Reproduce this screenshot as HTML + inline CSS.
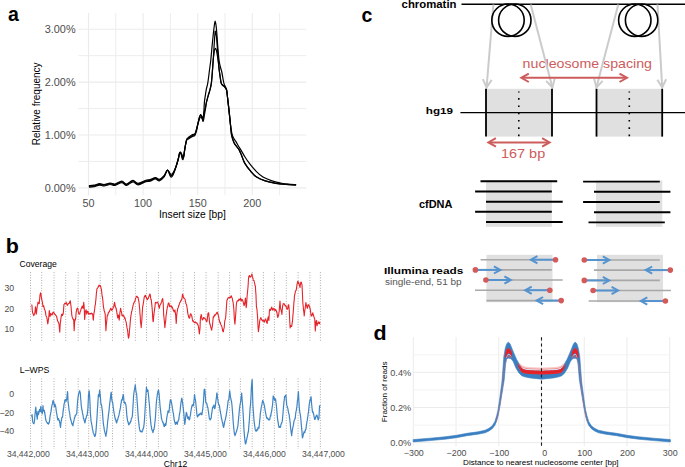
<!DOCTYPE html>
<html><head><meta charset="utf-8"><style>
html,body{margin:0;padding:0;background:#fff;}
svg{display:block;}
text{font-family:"Liberation Sans",sans-serif;}
</style></head><body>
<svg width="685" height="467" viewBox="0 0 685 467">
<rect width="685" height="467" fill="#fff"/>
<g>
<line x1="88.5" y1="12.9" x2="88.5" y2="195.3" stroke="#ebebeb" stroke-width="1.1"/>
<line x1="115.8" y1="12.9" x2="115.8" y2="195.3" stroke="#ebebeb" stroke-width="0.9"/>
<line x1="143.1" y1="12.9" x2="143.1" y2="195.3" stroke="#ebebeb" stroke-width="1.1"/>
<line x1="170.4" y1="12.9" x2="170.4" y2="195.3" stroke="#ebebeb" stroke-width="0.9"/>
<line x1="197.7" y1="12.9" x2="197.7" y2="195.3" stroke="#ebebeb" stroke-width="1.1"/>
<line x1="225" y1="12.9" x2="225" y2="195.3" stroke="#ebebeb" stroke-width="0.9"/>
<line x1="252.3" y1="12.9" x2="252.3" y2="195.3" stroke="#ebebeb" stroke-width="1.1"/>
<line x1="279.6" y1="12.9" x2="279.6" y2="195.3" stroke="#ebebeb" stroke-width="0.9"/>
<line x1="78.4" y1="187.9" x2="306.2" y2="187.9" stroke="#ebebeb" stroke-width="1.1"/>
<line x1="78.4" y1="161.45" x2="306.2" y2="161.45" stroke="#ebebeb" stroke-width="0.9"/>
<line x1="78.4" y1="135" x2="306.2" y2="135" stroke="#ebebeb" stroke-width="1.1"/>
<line x1="78.4" y1="108.55" x2="306.2" y2="108.55" stroke="#ebebeb" stroke-width="0.9"/>
<line x1="78.4" y1="82.1" x2="306.2" y2="82.1" stroke="#ebebeb" stroke-width="1.1"/>
<line x1="78.4" y1="55.65" x2="306.2" y2="55.65" stroke="#ebebeb" stroke-width="0.9"/>
<line x1="78.4" y1="29.2" x2="306.2" y2="29.2" stroke="#ebebeb" stroke-width="1.1"/>
</g>
<path d="M88.9,186.3 C89.75,186.22 92.22,186.13 94,185.8 C95.78,185.47 97.93,184.4 99.6,184.3 C101.27,184.2 102.25,185.3 104,185.2 C105.75,185.1 108.27,183.8 110.1,183.7 C111.93,183.6 113.05,184.92 115,184.6 C116.95,184.28 119.88,181.8 121.8,181.8 C123.72,181.8 124.65,184.73 126.5,184.6 C128.35,184.47 130.97,181.1 132.9,181 C134.83,180.9 135.95,184.03 138.1,184 C140.25,183.97 143.82,181.42 145.8,180.8 C147.78,180.18 148.4,180.73 150,180.3 C151.6,179.87 153.85,178.25 155.4,178.2 C156.95,178.15 157.85,180.33 159.3,180 C160.75,179.67 162.73,177.85 164.1,176.2 C165.47,174.55 166.4,170.43 167.5,170.1 C168.6,169.77 169.75,173.8 170.7,174.2 C171.65,174.6 172.32,173.8 173.2,172.5 C174.08,171.2 175.13,168.73 176,166.4 C176.87,164.07 177.77,160.8 178.4,158.5 C179.03,156.2 179.33,153.27 179.8,152.6 C180.27,151.93 180.75,153.35 181.2,154.5 C181.65,155.65 182.1,159 182.5,159.5 C182.9,160 183.17,159.57 183.6,157.5 C184.03,155.43 184.58,150.05 185.1,147.1 C185.62,144.15 186.17,141.4 186.7,139.8 C187.23,138.2 187.4,138.33 188.3,137.5 C189.2,136.67 191.02,135.42 192.1,134.8 C193.18,134.18 194.08,134.68 194.8,133.8 C195.52,132.92 195.9,131.12 196.4,129.5 C196.9,127.88 197.3,126.1 197.8,124.1 C198.3,122.1 198.93,119.08 199.4,117.5 C199.87,115.92 200.2,114.77 200.6,114.6 C201,114.43 201.43,115.8 201.8,116.5 C202.17,117.2 202.47,119.47 202.8,118.8 C203.13,118.13 203.53,115.27 203.8,112.5 C204.07,109.73 204.15,105 204.4,102.2 C204.65,99.4 204.98,97.85 205.3,95.7 C205.62,93.55 205.88,91.43 206.3,89.3 C206.72,87.17 207.27,86.12 207.8,82.9 C208.33,79.68 209,73.82 209.5,70 C210,66.18 210.38,63.83 210.8,60 C211.22,56.17 211.57,51.5 212,47 C212.43,42.5 213,36.67 213.4,33 C213.8,29.33 214.12,27 214.4,25 C214.68,23 214.83,21 215.1,21 C215.37,21 215.72,23 216,25 C216.28,27 216.5,29.33 216.8,33 C217.1,36.67 217.43,42.5 217.8,47 C218.17,51.5 218.57,56.67 219,60 C219.43,63.33 219.93,65 220.4,67 C220.87,69 221.33,69.83 221.8,72 C222.27,74.17 222.78,77.9 223.2,80 C223.62,82.1 223.93,83.47 224.3,84.6 C224.67,85.73 225.02,85.9 225.4,86.8 C225.78,87.7 226.23,88.13 226.6,90 C226.97,91.87 227.23,94.9 227.6,98 C227.97,101.1 228.43,105.27 228.8,108.6 C229.17,111.93 229.47,114.77 229.8,118 C230.13,121.23 230.5,125.17 230.8,128 C231.1,130.83 231.08,132.6 231.6,135 C232.12,137.4 233.08,140.52 233.9,142.4 C234.72,144.28 235.6,145.02 236.5,146.3 C237.4,147.58 238.35,148.32 239.3,150.1 C240.25,151.88 241.25,154.75 242.2,157 C243.15,159.25 243.57,161.22 245,163.6 C246.43,165.98 248.87,169.05 250.8,171.3 C252.73,173.55 254.18,175.5 256.6,177.1 C259.02,178.7 262.08,179.87 265.3,180.9 C268.52,181.93 272.45,182.72 275.9,183.3 C279.35,183.88 282.63,184.13 286,184.4 C289.37,184.67 294.42,184.82 296.1,184.9" fill="none" stroke="#000" stroke-width="1.2" stroke-linejoin="round"/>
<path d="M88.9,187.1 C89.75,187.02 92.22,186.93 94,186.6 C95.78,186.27 97.93,185.2 99.6,185.1 C101.27,185 102.25,186.1 104,186 C105.75,185.9 108.27,184.6 110.1,184.5 C111.93,184.4 113.05,185.72 115,185.4 C116.95,185.08 119.88,182.6 121.8,182.6 C123.72,182.6 124.65,185.53 126.5,185.4 C128.35,185.27 130.97,181.9 132.9,181.8 C134.83,181.7 135.95,184.83 138.1,184.8 C140.25,184.77 143.82,182.22 145.8,181.6 C147.78,180.98 148.4,181.53 150,181.1 C151.6,180.67 153.85,179.05 155.4,179 C156.95,178.95 157.85,181.13 159.3,180.8 C160.75,180.47 162.73,178.78 164.1,177 C165.47,175.22 166.4,170.13 167.5,170.1 C168.6,170.07 169.75,176.03 170.7,176.8 C171.65,177.57 172.32,176.33 173.2,174.7 C174.08,173.07 175.13,169.7 176,167 C176.87,164.3 177.77,160.9 178.4,158.5 C179.03,156.1 179.33,153.52 179.8,152.6 C180.27,151.68 180.75,152.43 181.2,153 C181.65,153.57 182.1,155.45 182.5,156 C182.9,156.55 183.17,157.78 183.6,156.3 C184.03,154.82 184.58,149.85 185.1,147.1 C185.62,144.35 186.17,141.13 186.7,139.8 C187.23,138.47 187.4,139.63 188.3,139.1 C189.2,138.57 191.02,137.18 192.1,136.6 C193.18,136.02 194.08,136.53 194.8,135.6 C195.52,134.67 195.9,132.83 196.4,131 C196.9,129.17 197.27,126.68 197.8,124.6 C198.33,122.52 199.08,119.8 199.6,118.5 C200.12,117.2 200.47,116.75 200.9,116.8 C201.33,116.85 201.82,118.05 202.2,118.8 C202.58,119.55 202.8,122.1 203.2,121.3 C203.6,120.5 204.2,116.22 204.6,114 C205,111.78 205.28,109.97 205.6,108 C205.92,106.03 206.07,104.25 206.5,102.2 C206.93,100.15 207.6,97.85 208.2,95.7 C208.8,93.55 209.57,91.43 210.1,89.3 C210.63,87.17 211,86.12 211.4,82.9 C211.8,79.68 212.2,73.82 212.5,70 C212.8,66.18 212.97,63.5 213.2,60 C213.43,56.5 213.68,52.33 213.9,49 C214.12,45.67 214.32,42.67 214.5,40 C214.68,37.33 214.87,34.47 215,33 C215.13,31.53 215.07,30.7 215.3,31.2 C215.53,31.7 216.07,33.37 216.4,36 C216.73,38.63 216.98,43 217.3,47 C217.62,51 217.98,56.17 218.3,60 C218.62,63.83 218.88,67.17 219.2,70 C219.52,72.83 219.88,74.85 220.2,77 C220.52,79.15 220.73,81.57 221.1,82.9 C221.47,84.23 221.82,84.35 222.4,85 C222.98,85.65 223.9,85.97 224.6,86.8 C225.3,87.63 226.1,88.13 226.6,90 C227.1,91.87 227.23,94.9 227.6,98 C227.97,101.1 228.43,105.27 228.8,108.6 C229.17,111.93 229.45,114.77 229.8,118 C230.15,121.23 230.43,125 230.9,128 C231.37,131 231.68,133.6 232.6,136 C233.52,138.4 235.4,140.68 236.4,142.4 C237.4,144.12 237.83,145.02 238.6,146.3 C239.37,147.58 239.93,148.32 241,150.1 C242.07,151.88 243.57,154.75 245,157 C246.43,159.25 247.73,161.22 249.6,163.6 C251.47,165.98 253.97,169.05 256.2,171.3 C258.43,173.55 260.37,175.5 263,177.1 C265.63,178.7 269.08,179.92 272,180.9 C274.92,181.88 277.83,182.45 280.5,183 C283.17,183.55 285.4,183.9 288,184.2 C290.6,184.5 294.75,184.7 296.1,184.8" fill="none" stroke="#000" stroke-width="1.2" stroke-linejoin="round"/>
<path d="M88.9,185.7 C89.75,185.62 92.22,185.53 94,185.2 C95.78,184.87 97.93,183.8 99.6,183.7 C101.27,183.6 102.25,184.7 104,184.6 C105.75,184.5 108.27,183.2 110.1,183.1 C111.93,183 113.05,184.32 115,184 C116.95,183.68 119.88,181.2 121.8,181.2 C123.72,181.2 124.65,184.13 126.5,184 C128.35,183.87 130.97,180.5 132.9,180.4 C134.83,180.3 135.95,183.43 138.1,183.4 C140.25,183.37 143.82,180.82 145.8,180.2 C147.78,179.58 148.4,180.13 150,179.7 C151.6,179.27 153.85,177.65 155.4,177.6 C156.95,177.55 157.85,179.73 159.3,179.4 C160.75,179.07 162.73,177.15 164.1,175.6 C165.47,174.05 166.4,170.12 167.5,170.1 C168.6,170.08 169.75,174.92 170.7,175.5 C171.65,176.08 172.32,175.07 173.2,173.6 C174.08,172.13 175.13,169.22 176,166.7 C176.87,164.18 177.77,160.85 178.4,158.5 C179.03,156.15 179.33,153.39 179.8,152.6 C180.27,151.81 180.75,152.89 181.2,153.75 C181.65,154.61 182.1,157.22 182.5,157.75 C182.9,158.28 183.17,158.68 183.6,156.9 C184.03,155.12 184.58,149.95 185.1,147.1 C185.62,144.25 186.17,141.27 186.7,139.8 C187.23,138.33 187.4,138.98 188.3,138.3 C189.2,137.62 191.02,136.3 192.1,135.7 C193.18,135.1 194.08,135.61 194.8,134.7 C195.52,133.79 195.9,132.02 196.4,130.25 C196.9,128.48 197.3,126.22 197.8,124.1 C198.3,121.97 198.93,119.05 199.4,117.5 C199.87,115.95 200.2,114.92 200.6,114.8 C201,114.68 201.43,116.1 201.8,116.8 C202.17,117.5 202.4,119.72 202.8,119 C203.2,118.28 203.77,114.42 204.2,112.5 C204.63,110.58 205.02,109.22 205.4,107.5 C205.78,105.78 206.03,104.17 206.5,102.2 C206.97,100.23 207.6,97.85 208.2,95.7 C208.8,93.55 209.57,91.43 210.1,89.3 C210.63,87.17 211,86.12 211.4,82.9 C211.8,79.68 212.2,73.82 212.5,70 C212.8,66.18 212.98,62.5 213.2,60 C213.42,57.5 213.58,56.63 213.8,55 C214.02,53.37 214.23,51.32 214.5,50.2 C214.77,49.08 215.1,48.37 215.4,48.3 C215.7,48.23 216,48.77 216.3,49.8 C216.6,50.83 216.87,52.47 217.2,54.5 C217.53,56.53 217.97,59.42 218.3,62 C218.63,64.58 218.88,67.5 219.2,70 C219.52,72.5 219.88,74.85 220.2,77 C220.52,79.15 220.73,81.57 221.1,82.9 C221.47,84.23 221.82,84.35 222.4,85 C222.98,85.65 223.9,85.97 224.6,86.8 C225.3,87.63 226.1,88.13 226.6,90 C227.1,91.87 227.23,94.9 227.6,98 C227.97,101.1 228.43,105.27 228.8,108.6 C229.17,111.93 229.47,114.77 229.8,118 C230.13,121.23 230.5,125.17 230.8,128 C231.1,130.83 231.08,132.6 231.6,135 C232.12,137.4 233.08,140.52 233.9,142.4 C234.72,144.28 235.6,145.02 236.5,146.3 C237.4,147.58 238.35,148.32 239.3,150.1 C240.25,151.88 241.25,154.75 242.2,157 C243.15,159.25 243.57,161.22 245,163.6 C246.43,165.98 248.87,169.05 250.8,171.3 C252.73,173.55 254.18,175.5 256.6,177.1 C259.02,178.7 262.08,179.87 265.3,180.9 C268.52,181.93 272.45,182.72 275.9,183.3 C279.35,183.88 282.63,184.13 286,184.4 C289.37,184.67 294.42,184.82 296.1,184.9" fill="none" stroke="#000" stroke-width="1.2" stroke-linejoin="round"/>
<g font-family="Liberation Sans, sans-serif">
<text x="8" y="21" font-size="19.5" fill="#000" text-anchor="start" font-weight="bold">a</text>
<text x="75.6" y="33.1" font-size="10.9" fill="#4d4d4d" text-anchor="end">3.00%</text>
<text x="75.6" y="86" font-size="10.9" fill="#4d4d4d" text-anchor="end">2.00%</text>
<text x="75.6" y="138.9" font-size="10.9" fill="#4d4d4d" text-anchor="end">1.00%</text>
<text x="75.6" y="191.8" font-size="10.9" fill="#4d4d4d" text-anchor="end">0.00%</text>
<text x="88.5" y="206.7" font-size="10.8" fill="#4d4d4d" text-anchor="middle">50</text>
<text x="143.1" y="206.7" font-size="10.8" fill="#4d4d4d" text-anchor="middle">100</text>
<text x="197.7" y="206.7" font-size="10.8" fill="#4d4d4d" text-anchor="middle">150</text>
<text x="252.3" y="206.7" font-size="10.8" fill="#4d4d4d" text-anchor="middle">200</text>
<text x="158.9" y="218" font-size="10.3" fill="#000" text-anchor="start">Insert size [bp]</text>
<text transform="translate(40.4,103.8) rotate(-90)" font-size="10" text-anchor="middle" fill="#000">Relative frequency</text>
</g>
<g>
<line x1="30.5" y1="272.2" x2="30.5" y2="342" stroke="#9a9a9a" stroke-width="0.9" stroke-dasharray="0.9 1.7"/>
<line x1="30.5" y1="378.5" x2="30.5" y2="449" stroke="#9a9a9a" stroke-width="0.9" stroke-dasharray="0.9 1.7"/>
<line x1="41.7" y1="272.2" x2="41.7" y2="342" stroke="#9a9a9a" stroke-width="0.9" stroke-dasharray="0.9 1.7"/>
<line x1="41.7" y1="378.5" x2="41.7" y2="449" stroke="#9a9a9a" stroke-width="0.9" stroke-dasharray="0.9 1.7"/>
<line x1="54" y1="272.2" x2="54" y2="342" stroke="#9a9a9a" stroke-width="0.9" stroke-dasharray="0.9 1.7"/>
<line x1="54" y1="378.5" x2="54" y2="449" stroke="#9a9a9a" stroke-width="0.9" stroke-dasharray="0.9 1.7"/>
<line x1="65.7" y1="272.2" x2="65.7" y2="342" stroke="#9a9a9a" stroke-width="0.9" stroke-dasharray="0.9 1.7"/>
<line x1="65.7" y1="378.5" x2="65.7" y2="449" stroke="#9a9a9a" stroke-width="0.9" stroke-dasharray="0.9 1.7"/>
<line x1="78.2" y1="272.2" x2="78.2" y2="342" stroke="#9a9a9a" stroke-width="0.9" stroke-dasharray="0.9 1.7"/>
<line x1="78.2" y1="378.5" x2="78.2" y2="449" stroke="#9a9a9a" stroke-width="0.9" stroke-dasharray="0.9 1.7"/>
<line x1="88.7" y1="272.2" x2="88.7" y2="342" stroke="#9a9a9a" stroke-width="0.9" stroke-dasharray="0.9 1.7"/>
<line x1="88.7" y1="378.5" x2="88.7" y2="449" stroke="#9a9a9a" stroke-width="0.9" stroke-dasharray="0.9 1.7"/>
<line x1="100.2" y1="272.2" x2="100.2" y2="342" stroke="#9a9a9a" stroke-width="0.9" stroke-dasharray="0.9 1.7"/>
<line x1="100.2" y1="378.5" x2="100.2" y2="449" stroke="#9a9a9a" stroke-width="0.9" stroke-dasharray="0.9 1.7"/>
<line x1="112.5" y1="272.2" x2="112.5" y2="342" stroke="#9a9a9a" stroke-width="0.9" stroke-dasharray="0.9 1.7"/>
<line x1="112.5" y1="378.5" x2="112.5" y2="449" stroke="#9a9a9a" stroke-width="0.9" stroke-dasharray="0.9 1.7"/>
<line x1="123.4" y1="272.2" x2="123.4" y2="342" stroke="#9a9a9a" stroke-width="0.9" stroke-dasharray="0.9 1.7"/>
<line x1="123.4" y1="378.5" x2="123.4" y2="449" stroke="#9a9a9a" stroke-width="0.9" stroke-dasharray="0.9 1.7"/>
<line x1="135.4" y1="272.2" x2="135.4" y2="342" stroke="#9a9a9a" stroke-width="0.9" stroke-dasharray="0.9 1.7"/>
<line x1="135.4" y1="378.5" x2="135.4" y2="449" stroke="#9a9a9a" stroke-width="0.9" stroke-dasharray="0.9 1.7"/>
<line x1="146.5" y1="272.2" x2="146.5" y2="342" stroke="#9a9a9a" stroke-width="0.9" stroke-dasharray="0.9 1.7"/>
<line x1="146.5" y1="378.5" x2="146.5" y2="449" stroke="#9a9a9a" stroke-width="0.9" stroke-dasharray="0.9 1.7"/>
<line x1="158.4" y1="272.2" x2="158.4" y2="342" stroke="#9a9a9a" stroke-width="0.9" stroke-dasharray="0.9 1.7"/>
<line x1="158.4" y1="378.5" x2="158.4" y2="449" stroke="#9a9a9a" stroke-width="0.9" stroke-dasharray="0.9 1.7"/>
<line x1="170.8" y1="272.2" x2="170.8" y2="342" stroke="#9a9a9a" stroke-width="0.9" stroke-dasharray="0.9 1.7"/>
<line x1="170.8" y1="378.5" x2="170.8" y2="449" stroke="#9a9a9a" stroke-width="0.9" stroke-dasharray="0.9 1.7"/>
<line x1="183.2" y1="272.2" x2="183.2" y2="342" stroke="#9a9a9a" stroke-width="0.9" stroke-dasharray="0.9 1.7"/>
<line x1="183.2" y1="378.5" x2="183.2" y2="449" stroke="#9a9a9a" stroke-width="0.9" stroke-dasharray="0.9 1.7"/>
<line x1="194.5" y1="272.2" x2="194.5" y2="342" stroke="#9a9a9a" stroke-width="0.9" stroke-dasharray="0.9 1.7"/>
<line x1="194.5" y1="378.5" x2="194.5" y2="449" stroke="#9a9a9a" stroke-width="0.9" stroke-dasharray="0.9 1.7"/>
<line x1="206" y1="272.2" x2="206" y2="342" stroke="#9a9a9a" stroke-width="0.9" stroke-dasharray="0.9 1.7"/>
<line x1="206" y1="378.5" x2="206" y2="449" stroke="#9a9a9a" stroke-width="0.9" stroke-dasharray="0.9 1.7"/>
<line x1="218.2" y1="272.2" x2="218.2" y2="342" stroke="#9a9a9a" stroke-width="0.9" stroke-dasharray="0.9 1.7"/>
<line x1="218.2" y1="378.5" x2="218.2" y2="449" stroke="#9a9a9a" stroke-width="0.9" stroke-dasharray="0.9 1.7"/>
<line x1="229.6" y1="272.2" x2="229.6" y2="342" stroke="#9a9a9a" stroke-width="0.9" stroke-dasharray="0.9 1.7"/>
<line x1="229.6" y1="378.5" x2="229.6" y2="449" stroke="#9a9a9a" stroke-width="0.9" stroke-dasharray="0.9 1.7"/>
<line x1="240.4" y1="272.2" x2="240.4" y2="342" stroke="#9a9a9a" stroke-width="0.9" stroke-dasharray="0.9 1.7"/>
<line x1="240.4" y1="378.5" x2="240.4" y2="449" stroke="#9a9a9a" stroke-width="0.9" stroke-dasharray="0.9 1.7"/>
<line x1="252.2" y1="272.2" x2="252.2" y2="342" stroke="#9a9a9a" stroke-width="0.9" stroke-dasharray="0.9 1.7"/>
<line x1="252.2" y1="378.5" x2="252.2" y2="449" stroke="#9a9a9a" stroke-width="0.9" stroke-dasharray="0.9 1.7"/>
<line x1="263.4" y1="272.2" x2="263.4" y2="342" stroke="#9a9a9a" stroke-width="0.9" stroke-dasharray="0.9 1.7"/>
<line x1="263.4" y1="378.5" x2="263.4" y2="449" stroke="#9a9a9a" stroke-width="0.9" stroke-dasharray="0.9 1.7"/>
<line x1="274.4" y1="272.2" x2="274.4" y2="342" stroke="#9a9a9a" stroke-width="0.9" stroke-dasharray="0.9 1.7"/>
<line x1="274.4" y1="378.5" x2="274.4" y2="449" stroke="#9a9a9a" stroke-width="0.9" stroke-dasharray="0.9 1.7"/>
<line x1="286.3" y1="272.2" x2="286.3" y2="342" stroke="#9a9a9a" stroke-width="0.9" stroke-dasharray="0.9 1.7"/>
<line x1="286.3" y1="378.5" x2="286.3" y2="449" stroke="#9a9a9a" stroke-width="0.9" stroke-dasharray="0.9 1.7"/>
<line x1="298.1" y1="272.2" x2="298.1" y2="342" stroke="#9a9a9a" stroke-width="0.9" stroke-dasharray="0.9 1.7"/>
<line x1="298.1" y1="378.5" x2="298.1" y2="449" stroke="#9a9a9a" stroke-width="0.9" stroke-dasharray="0.9 1.7"/>
<line x1="309.9" y1="272.2" x2="309.9" y2="342" stroke="#9a9a9a" stroke-width="0.9" stroke-dasharray="0.9 1.7"/>
<line x1="309.9" y1="378.5" x2="309.9" y2="449" stroke="#9a9a9a" stroke-width="0.9" stroke-dasharray="0.9 1.7"/>
<line x1="320.4" y1="272.2" x2="320.4" y2="342" stroke="#9a9a9a" stroke-width="0.9" stroke-dasharray="0.9 1.7"/>
<line x1="320.4" y1="378.5" x2="320.4" y2="449" stroke="#9a9a9a" stroke-width="0.9" stroke-dasharray="0.9 1.7"/>
</g>
<polyline points="31.75,304.46 32,306.3 32.24,310.08 32.49,311.95 32.89,313.67 33.29,314 33.69,315.69 34.04,314.94 34.39,314.1 34.74,313.45 34.99,311.47 35.24,309.47 35.49,306.7 35.74,308.47 35.99,310.85 36.24,314.19 36.59,312.05 36.94,308.58 37.29,305.96 37.59,305.18 37.89,302.56 38.19,302.21 38.54,302.61 38.89,303.61 39.24,303.71 39.49,300.22 39.74,298.52 39.99,294.72 40.23,294.94 40.48,292.88 40.73,293.22 40.98,293.86 41.23,296.29 41.48,297.72 41.73,299.75 41.98,300 42.23,301.46 42.48,302.7 42.73,304.82 42.98,306.7 43.23,305.61 43.48,305.7 43.73,305.96 43.98,307.09 44.23,308.44 44.48,309.7 44.73,309.72 44.98,310.21 45.23,311.2 45.48,312.19 45.73,314.12 45.98,315.69 46.38,316.56 46.78,317.33 47.18,319.44 47.38,321.54 47.58,322.54 47.78,323.93 48.02,322.69 48.27,320.37 48.52,319.44 48.77,317.33 49.02,314.09 49.27,310.45 49.52,311.76 49.77,314.14 50.02,316.44 50.27,315.84 50.52,314.82 50.77,313.45 51.17,314.73 51.57,314.3 51.97,314.94 52.22,314.79 52.47,313.75 52.72,312.7 53.07,312.19 53.42,312.55 53.77,312.25 54.17,313.58 54.57,314.17 54.97,314.19 55.37,314.7 55.77,315.35 56.16,315.69 56.51,316.1 56.86,317.73 57.21,319.44 57.56,320.97 57.91,321.28 58.26,322.43 58.51,322.35 58.76,323.52 59.01,323.93 59.26,327.04 59.51,329.74 59.76,332.17 59.91,329.2 60.06,326.57 60.21,323.93 60.46,321.95 60.71,320.44 60.96,317.94 61.21,316.73 61.46,315.25 61.71,314.19 61.96,314.68 62.21,314.35 62.46,315.69 62.71,314.12 62.96,314.56 63.21,313.45 63.46,311.32 63.71,307.62 63.96,304.46 64.35,304.02 64.75,303.36 65.15,303.71 65.5,303.21 65.85,303.58 66.2,302.21 66.55,303.7 66.9,304.28 67.25,305.21 67.65,305.36 68.05,303.73 68.45,303.71 68.85,303.23 69.25,303.52 69.65,302.21 69.85,301.85 70.05,301.14 70.25,300.71 70.55,302.54 70.85,305.29 71.15,307.45 71.35,310.77 71.55,311.56 71.75,314.94 72.14,316.7 72.54,318.02 72.94,318.69 73.19,319.63 73.44,319.62 73.69,319.44 73.84,323.74 73.99,326.96 74.14,330.67 74.34,327.54 74.54,324.05 74.74,320.94 75.04,319.39 75.34,320.1 75.64,318.69 75.84,316.57 76.04,313.65 76.24,311.95 76.44,310.96 76.64,309.92 76.84,308.95 77.14,308.44 77.44,308.17 77.74,308.2 78.04,310.02 78.34,311.92 78.64,313.45 78.99,313.9 79.34,313.87 79.69,314.19 80.03,312.1 80.38,311.21 80.73,310.45 81.03,308.87 81.33,308.6 81.63,307.45 81.83,307.6 82.03,306.99 82.23,305.96 82.53,307.24 82.83,308.02 83.13,308.2 83.33,305.76 83.53,304.82 83.73,302.21 83.88,304.27 84.03,304.96 84.18,307.45 84.33,310.58 84.48,314.57 84.63,319.44 84.88,317.4 85.13,313.99 85.38,311.95 85.63,310.5 85.88,310.67 86.13,309.7 86.33,310.92 86.53,311.92 86.73,314.19 87.03,312.58 87.33,312.25 87.63,311.2 87.98,311.6 88.32,312.79 88.67,314.19 89.02,314.33 89.37,313.61 89.72,313.45 90.12,313.37 90.52,313.9 90.92,314.19 91.32,313.09 91.72,313.49 92.12,313.45 92.32,313.8 92.52,313.88 92.72,314.94 92.92,315.99 93.12,319.16 93.32,320.19 93.52,317.96 93.72,315.17 93.92,313.45 94.17,312.14 94.42,311.02 94.67,308.95 94.92,306.59 95.17,305.09 95.42,304.46 95.67,301.07 95.92,299.36 96.16,296.22 96.41,293.11 96.66,291.59 96.91,288.73 97.31,288.55 97.71,287.81 98.11,287.23 98.46,285.98 98.81,286.59 99.16,284.98 99.41,285.77 99.66,285.51 99.91,285.73 100.16,285.48 100.41,286.5 100.66,286.48 100.91,287.29 101.16,288.61 101.41,289.48 101.66,291.4 101.91,294.21 102.16,296.22 102.41,296.92 102.66,298.85 102.91,300.71 103.16,304.05 103.41,306.38 103.66,308.2 103.91,308.85 104.15,310.85 104.4,311.2 104.65,311.61 104.9,313.49 105.15,313.45 105.4,319.63 105.65,324.78 105.9,330.67 106.15,327.23 106.4,323.8 106.65,321.69 106.9,320.12 107.15,316.36 107.4,314.94 107.53,315.52 107.66,315.78 107.79,314.94 108.09,314.07 108.39,312.36 108.69,311.95 109.04,312.11 109.39,311.8 109.74,310.45 110.09,310.07 110.44,308.97 110.79,308.2 111.09,308.73 111.39,309.42 111.69,310.45 112.03,309.42 112.38,309.76 112.73,308.95 113.08,308.08 113.43,306.9 113.78,306.7 114.03,304.49 114.28,304.01 114.53,302.21 114.78,303.34 115.03,305.21 115.28,306.7 115.58,306.89 115.88,308.37 116.18,308.2 116.43,310.67 116.68,310.83 116.93,313.45 117.18,314.41 117.43,316.13 117.68,317.94 117.93,317.82 118.18,316.45 118.43,314.94 118.68,316.4 118.93,317.92 119.18,320.19 119.43,317.75 119.68,315.3 119.93,311.95 120.17,311.48 120.42,309.17 120.67,308.2 120.92,310.14 121.17,311.04 121.42,311.95 121.67,313.17 121.92,315.32 122.17,315.69 122.52,315.22 122.87,316.1 123.22,315.69 123.57,315.44 123.92,316.1 124.27,317.19 124.57,318.43 124.87,317.67 125.17,318.69 125.52,320.4 125.87,321.37 126.22,322.43 126.47,324.8 126.72,325.69 126.97,327.68 127.22,328.64 127.47,329.8 127.72,331.42 127.97,334.33 128.21,336.1 128.46,338.16 128.71,337.73 128.96,336.36 129.21,334.42 129.46,330.77 129.71,328.52 129.96,325.43 130.21,322.22 130.46,319.61 130.71,317.94 130.96,315.17 131.21,314.6 131.46,311.95 131.86,310.97 132.26,309.54 132.66,307.45 133.01,305.67 133.36,304.66 133.71,302.96 134.06,302.97 134.41,301.74 134.76,301.46 135.16,300.34 135.56,298.47 135.96,297.72 136.35,296.46 136.75,296.3 137.15,296.22 137.5,297.42 137.85,297.33 138.2,297.72 138.45,299.98 138.7,300.64 138.95,302.21 139.2,304.06 139.45,307.22 139.7,308.95 139.95,313.54 140.2,316.06 140.45,320.94 140.7,323.49 140.95,324.7 141.2,327.68 141.45,323.74 141.7,321.88 141.95,317.94 142.2,313.12 142.45,309.48 142.7,305.96 142.95,305.83 143.2,303.82 143.45,302.96 143.75,300.27 144.04,298.37 144.34,296.97 144.64,296 144.94,296.41 145.24,295.47 145.54,295.25 145.84,297.21 146.14,296.97 146.49,297.5 146.84,299.31 147.19,299.21 147.54,299.7 147.89,298.34 148.24,298.46 148.54,297.27 148.84,296.92 149.14,296.22 149.39,294.75 149.64,294.99 149.89,293.97 150.14,294.39 150.39,295.59 150.64,297.72 150.89,299.58 151.14,299.34 151.39,300.71 151.64,303.38 151.89,305.62 152.13,308.2 152.33,311.11 152.53,313.91 152.73,317.94 152.88,319.93 153.03,321.28 153.18,321.69 153.43,320.28 153.68,316.49 153.93,314.94 154.18,312.18 154.43,310.66 154.68,308.2 154.93,307.07 155.18,304.28 155.43,302.21 155.83,302.8 156.23,303 156.63,302.96 156.98,302.28 157.33,302.53 157.68,302.21 157.93,302.86 158.18,303.75 158.43,305.21 158.68,305.45 158.93,306.81 159.18,308.2 159.43,308.07 159.68,306.11 159.93,305.21 160.17,304.98 160.42,304.47 160.67,303.71 161.02,303.75 161.37,302.01 161.72,301.46 162.02,300.11 162.32,299.15 162.62,298.46 162.82,299.63 163.02,302.09 163.22,302.96 163.37,307.66 163.52,310.59 163.67,314.94 163.92,316.89 164.17,319.52 164.42,321.69 164.57,323.83 164.72,325.85 164.87,327.68 165.12,325.22 165.37,322.82 165.62,321.69 165.82,318.98 166.02,316.42 166.22,314.94 166.52,313.04 166.82,310.18 167.12,308.95 167.47,306.44 167.82,305.7 168.16,303.71 168.41,303.08 168.66,303.73 168.91,302.96 169.16,304.2 169.41,306.11 169.66,306.7 170.01,305.83 170.36,306.21 170.71,305.96 171.01,306.74 171.31,305.69 171.61,306.7 171.96,308.01 172.31,307.11 172.66,308.2 172.91,309.2 173.16,310.07 173.41,309.7 173.66,311.03 173.91,310.87 174.16,311.95 174.44,310.57 174.72,310.64 175,309.94 175.25,312.7 175.5,313.57 175.75,315.94 175.9,319.14 176.05,320.29 176.2,323.43 176.4,321.17 176.6,316.59 176.8,314.44 177.1,312.11 177.4,311.17 177.7,308.45 178.05,307.99 178.4,307.18 178.75,305.45 179.09,305.06 179.44,303.9 179.79,302.45 180.19,302.3 180.59,300.88 180.99,300.96 181.24,300.33 181.49,299.34 181.74,299.46 181.99,298.1 182.24,296.26 182.49,294.21 182.74,294.52 182.99,294.93 183.24,296.46 183.59,297.79 183.94,298.01 184.29,297.96 184.59,298.55 184.89,299.03 185.19,299.46 185.39,301.34 185.59,301.87 185.79,303.2 186.09,303.76 186.39,304.41 186.69,305.45 187.03,307.51 187.38,309.59 187.73,312.94 188.08,314.7 188.43,315.79 188.78,317.43 189.08,317.81 189.38,317.15 189.68,318.18 189.88,316.67 190.08,315.04 190.28,314.44 190.58,313.76 190.88,314 191.18,314.44 191.43,315.78 191.68,315.75 191.93,316.69 192.18,318.01 192.43,319.88 192.68,321.18 193.03,320.95 193.38,320.79 193.73,321.93 193.98,322.23 194.23,322.43 194.48,322.68 194.83,322.7 195.17,322.07 195.52,321.93 195.82,322.51 196.12,322.84 196.42,322.68 196.77,322.71 197.12,323.67 197.47,324.18 197.72,324.64 197.97,324.68 198.22,325.67 198.47,327.01 198.72,328.78 198.97,330.17 199.12,332.15 199.27,333.42 199.42,333.91 199.62,331.51 199.82,330.18 200.02,327.92 200.17,323.61 200.32,320.16 200.47,317.43 200.72,316.46 200.97,316.12 201.22,314.44 201.47,315.32 201.72,317.91 201.97,318.93 202.22,319.87 202.47,319.09 202.72,319.68 202.97,319.28 203.21,318.81 203.46,317.43 203.86,317.45 204.26,318.3 204.66,318.18 205.01,318.86 205.36,318.85 205.71,318.93 205.96,320.32 206.21,321.14 206.46,321.18 206.71,321.76 206.96,320.81 207.21,320.43 207.46,317.6 207.71,315.49 207.96,313.69 208.21,312.93 208.46,313.31 208.71,312.94 208.96,316.4 209.21,318.13 209.46,321.93 209.71,323.25 209.96,324.32 210.21,324.93 210.46,325.65 210.71,326.95 210.96,327.92 211.2,328.07 211.45,329.83 211.7,330.17 211.95,327.59 212.2,327.54 212.45,324.93 212.7,322.98 212.95,320.16 213.2,317.43 213.45,316.52 213.7,317.18 213.95,315.94 214.2,316.51 214.45,314.79 214.7,315.19 214.95,315.43 215.2,315.3 215.45,314.44 215.7,314.48 215.95,314.3 216.2,313.69 216.45,313.09 216.7,313.45 216.95,312.19 217.2,313.29 217.45,312.48 217.7,312.94 217.95,314.48 218.2,314.82 218.45,315.94 218.7,316.83 218.95,318.62 219.19,320.43 219.44,320.26 219.69,322.17 219.94,321.93 220.19,323.5 220.44,322.74 220.69,324.18 221.04,325.11 221.39,325.51 221.74,326.42 222.04,327.23 222.34,329.05 222.64,330.92 222.89,330.71 223.14,331.87 223.39,331.67 223.64,329.53 223.89,328.61 224.14,327.92 224.39,325.31 224.64,322.07 224.89,320.43 225.14,319.66 225.39,318.62 225.64,317.43 225.84,315.54 226.04,311.91 226.24,309.94 226.44,306.56 226.64,304.03 226.84,300.96 227.13,299.8 227.43,299.61 227.73,298.71 228.13,297.76 228.53,298.04 228.93,297.21 229.33,297.73 229.73,297.77 230.13,297.21 230.48,297.56 230.83,296.29 231.18,295.71 231.53,296.44 231.88,297.85 232.23,297.96 232.53,299.94 232.83,301.08 233.13,302.45 233.38,304.74 233.63,307.06 233.88,309.94 234.03,312.23 234.18,316.49 234.33,318.93 234.53,319.99 234.73,322.87 234.93,324.18 235.12,321.76 235.32,320.02 235.52,316.69 235.72,314.16 235.92,311.55 236.12,307.7 236.32,305.04 236.52,303.7 236.72,301.7 237.02,301.59 237.32,300.86 237.62,300.96 237.82,300.96 238.02,300.7 238.22,300.96 238.52,300.51 238.82,299.06 239.12,299.46 239.37,299.6 239.62,299.87 239.87,300.21 240.12,299.11 240.37,298.53 240.62,297.96 240.87,299.47 241.12,300.29 241.37,300.96 241.57,300.44 241.77,300.22 241.97,299.46 242.22,299.74 242.47,299.92 242.72,300.96 243.01,301.06 243.31,302.55 243.61,303.95 243.81,304.63 244.01,305.64 244.21,305.45 244.41,305.04 244.61,303.47 244.81,302.45 245.01,301.83 245.21,299.39 245.41,297.96 245.66,301.81 245.91,304.29 246.16,307.7 246.31,306.89 246.46,306.08 246.61,303.95 246.81,300.6 247.01,297.37 247.21,294.96 247.46,292.68 247.71,290.02 247.96,287.47 248.21,283.72 248.46,279.59 248.71,276.99 248.96,276.29 249.21,275.85 249.46,275.49 249.71,275.82 249.96,277.14 250.21,276.99 250.46,276.89 250.71,276.91 250.96,276.24 251.25,276.2 251.55,275.19 251.85,273.99 252.1,274.97 252.35,276.43 252.6,276.99 252.85,278.24 253.1,279.25 253.35,279.98 253.58,280.46 253.81,280.31 254.04,280.73 254.29,281.96 254.54,282.97 254.79,283.73 254.99,285.26 255.19,285.73 255.39,285.97 255.59,289.59 255.79,292.45 255.99,294.96 256.14,299.53 256.29,303.14 256.44,306.95 256.64,307.68 256.84,308.52 257.04,309.94 257.19,312.32 257.34,314.61 257.49,315.94 257.64,319.01 257.79,321.3 257.94,324.93 258.09,327.77 258.24,329.39 258.39,331.67 258.59,330.36 258.79,328.35 258.99,327.92 259.19,325.94 259.39,324.37 259.59,321.93 259.79,320.79 259.99,319.67 260.19,318.93 260.49,318.97 260.79,317.57 261.09,318.18 261.39,318.7 261.69,319.99 261.99,319.68 262.23,320.52 262.48,320.5 262.73,321.18 262.98,321.27 263.23,320.87 263.48,320.43 263.73,320.41 263.98,320.9 264.23,321.93 264.48,322.12 264.73,320.51 264.98,320.43 265.23,319.17 265.48,320.03 265.73,318.93 265.98,319.97 266.23,320.69 266.48,321.93 266.73,322.45 266.98,323.35 267.23,323.43 267.38,321.33 267.53,320.71 267.68,318.93 267.88,318.57 268.08,318 268.28,316.69 268.48,317.52 268.68,319.38 268.88,320.43 269.08,316.45 269.28,313.55 269.48,309.94 269.73,309.35 269.98,310.47 270.22,309.94 270.47,310.35 270.72,309.14 270.97,309.19 271.22,307.95 271.47,308.53 271.72,306.95 271.97,308.32 272.22,309.56 272.47,309.94 272.72,308.85 272.97,310.16 273.22,309.19 273.47,309.17 273.72,308.37 273.97,308.45 274.22,308.82 274.47,309.92 274.72,309.94 274.97,310.46 275.22,309.39 275.47,309.94 275.72,310.42 275.97,309.84 276.22,310.69 276.47,312.04 276.72,311.59 276.97,312.19 277.22,314.68 277.47,316.1 277.72,317.43 277.97,317.13 278.21,316.01 278.46,315.94 278.71,314.49 278.96,312.29 279.21,311.44 279.46,307.29 279.71,304.84 279.96,300.96 280.16,303.2 280.36,306.4 280.56,308.45 280.76,308.48 280.96,309.84 281.16,309.94 281.41,311.84 281.66,312.59 281.91,314.44 282.16,310.73 282.41,308.26 282.66,305.45 282.91,304.94 283.16,303.73 283.41,303.95 283.76,303.64 284.11,303.65 284.46,304.7 284.81,305.13 285.16,305.9 285.51,305.45 285.81,305.69 286.1,306.11 286.4,307.7 286.75,308.56 287.1,309.26 287.45,309.19 287.7,308.78 287.95,306.9 288.2,305.45 288.35,304.92 288.5,305.56 288.65,304.7 288.85,305.76 289.05,308.54 289.25,309.94 289.4,312.71 289.55,316.75 289.7,320.43 289.85,322.92 290,325.2 290.15,327.92 290.35,326.58 290.55,325.94 290.75,325.67 291.05,326.5 291.35,326.11 291.65,326.42 291.9,325.07 292.15,322.91 292.4,321.93 292.65,319.32 292.9,315.63 293.15,312.94 293.4,309.61 293.65,306.69 293.9,302.45 294.14,300.85 294.39,296.64 294.64,294.96 294.89,294.25 295.14,293.11 295.39,291.22 295.64,290.64 295.89,290.51 296.14,290.47 296.39,288.86 296.64,287.73 296.89,285.22 297.14,283.8 297.39,283.41 297.64,281.48 297.84,282.19 298.04,281.35 298.24,282.23 298.54,283.72 298.84,282.85 299.14,284.48 299.44,284.84 299.74,286.77 300.04,287.47 300.24,285.18 300.44,284.26 300.64,282.98 300.89,282.06 301.14,282.41 301.39,282.23 301.59,283.59 301.79,284.46 301.99,284.48 302.23,289.13 302.48,294.67 302.73,300.96 302.98,304.56 303.23,306.12 303.48,309.94 303.73,311.53 303.98,313.25 304.23,315.94 304.53,312.7 304.83,310.09 305.13,308.45 305.38,306.7 305.63,304.89 305.88,302.45 306.13,303.79 306.38,305.07 306.63,305.45 306.83,306.74 307.03,307.25 307.23,308.45 307.48,307.43 307.73,306.79 307.98,304.7 308.23,305.2 308.48,304.74 308.73,305.45 309.03,305.16 309.33,307.23 309.63,306.95 309.88,308.11 310.12,308.67 310.37,309.94 310.62,312.13 310.87,314.05 311.12,315.94 311.37,315.98 311.62,315.15 311.87,315.94 312.12,314.67 312.37,313.78 312.62,312.94 312.82,312.9 313.02,314.62 313.22,314.44 313.47,315.05 313.72,316.23 313.97,316.69 314.22,317.82 314.47,318.62 314.72,318.93 314.92,323.33 315.12,327.38 315.32,330.92 315.52,327.47 315.72,325.78 315.92,321.93 316.17,320.8 316.42,321.68 316.67,320.43 316.82,322.82 316.97,324.56 317.12,325.67 317.37,324.12 317.62,323.44 317.87,323.43 318.11,323.49 318.36,322.37 318.61,321.93 318.91,322.19 319.21,323.8 319.51,323.43 319.71,322.35 319.91,322.98 320.11,322.68" fill="none" stroke="#e5242a" stroke-width="1.1" stroke-linejoin="round"/>
<polyline points="31.3,415.45 31.55,416.11 31.8,415.85 32.04,414.7 32.19,415.56 32.34,417.37 32.49,419.94 32.74,421.61 32.99,422.41 33.24,422.94 33.49,423.53 33.74,423.06 33.99,423.69 34.19,422.65 34.39,421.41 34.59,419.94 34.79,417.61 34.99,414.27 35.19,412.45 35.39,410.57 35.59,408.74 35.79,407.21 35.94,408.9 36.09,410.7 36.24,410.96 36.39,413.35 36.54,414.04 36.69,415.45 36.89,416.59 37.09,417.48 37.29,419.19 37.49,415.77 37.69,413.26 37.89,411.7 38.09,412.63 38.29,413.34 38.49,414.7 38.69,413.21 38.89,412.99 39.09,410.96 39.29,410.51 39.49,410.08 39.69,409.46 39.89,409.68 40.08,410 40.28,411.7 40.48,409.61 40.68,407.48 40.88,406.46 41.08,407.98 41.28,410.45 41.48,410.96 41.73,412.3 41.98,412.32 42.23,413.95 42.48,411.99 42.73,409.05 42.98,405.71 43.18,407.93 43.38,410.02 43.58,410.96 43.78,411.23 43.98,411.04 44.18,410.21 44.38,410.66 44.58,412.67 44.78,412.45 44.98,414.88 45.18,414.77 45.38,416.95 45.58,418.7 45.78,419.87 45.98,420.69 46.28,421.12 46.58,421.75 46.88,422.19 47.18,422.42 47.48,423.54 47.78,422.94 48.07,423.19 48.37,424.1 48.67,423.69 48.92,422.65 49.17,422.96 49.42,421.44 49.67,420.24 49.92,417.37 50.17,415.45 50.37,414.59 50.57,414.29 50.77,412.45 51.02,411.4 51.27,409.43 51.52,407.96 51.77,406.15 52.02,405.11 52.27,404.21 52.57,403.36 52.87,401.05 53.17,400.47 53.37,401.78 53.57,401 53.77,401.97 53.97,404.29 54.17,404.58 54.37,406.46 54.57,406.63 54.77,405.37 54.97,404.21 55.22,404.97 55.47,405.75 55.72,406.46 55.97,408.76 56.21,410.63 56.46,412.45 56.71,413.57 56.96,414.87 57.21,416.95 57.46,417.97 57.71,419.81 57.96,419.94 58.21,419.94 58.46,418.6 58.71,419.19 58.96,420.33 59.21,420.65 59.46,420.69 59.66,422.76 59.86,422.57 60.06,424.44 60.21,425.93 60.36,425.55 60.51,427.43 60.66,426.24 60.81,423.98 60.96,422.94 61.21,420.9 61.46,420.69 61.71,418.45 61.96,417.16 62.21,417.49 62.46,416.95 62.71,415.66 62.96,412.44 63.21,410.96 63.46,408.38 63.71,407.72 63.96,404.96 64.2,403.56 64.45,402.9 64.7,401.22 64.95,399.78 65.2,399.94 65.45,399.72 65.7,399.56 65.95,401.06 66.2,401.22 66.45,399.13 66.7,399.63 66.95,397.47 67.15,394.53 67.35,393.94 67.55,391.48 67.7,393.52 67.85,396.98 68,400.47 68.15,402.59 68.3,402.78 68.45,404.96 68.7,406.33 68.95,409.34 69.2,410.96 69.45,412.22 69.7,413.04 69.95,415.45 70.2,417.93 70.45,417.75 70.7,419.94 70.95,419.77 71.2,421.13 71.45,422.19 71.7,423.17 71.95,424.17 72.19,424.44 72.44,424.16 72.69,425.11 72.94,425.94 73.19,423.5 73.44,422.84 73.69,421.44 73.94,420.73 74.19,419.42 74.44,417.7 74.69,417.75 74.94,416.71 75.19,415.45 75.44,415.92 75.69,415.36 75.94,414.7 76.19,414.4 76.44,413.65 76.69,413.95 76.94,410.78 77.19,406.59 77.44,403.46 77.69,400.17 77.94,398.37 78.19,395.97 78.44,395.72 78.69,393.23 78.94,392.98 79.19,392.4 79.44,391.27 79.69,390.73 79.94,392.01 80.18,392.51 80.43,394.48 80.68,398.89 80.93,400.99 81.18,404.96 81.43,406.92 81.68,408.3 81.93,410.21 82.18,410.49 82.43,412.82 82.68,413.95 82.93,414.73 83.18,416.06 83.43,418.45 83.68,418.26 83.93,419.27 84.18,420.69 84.43,420.63 84.68,422.46 84.93,422.94 85.18,421.46 85.43,420.91 85.68,418.45 85.93,418.56 86.18,417.94 86.43,416.2 86.68,415.41 86.93,415.59 87.18,415.45 87.43,412.45 87.68,410.64 87.93,407.96 88.12,403.71 88.32,399.57 88.52,394.48 88.72,393.65 88.92,391.49 89.12,390.73 89.32,392.82 89.52,395.28 89.72,397.47 89.92,401.48 90.12,406.53 90.32,412.45 90.52,414.77 90.72,416.67 90.92,419.94 91.17,421.89 91.42,422.42 91.67,424.44 91.92,425.14 92.17,426.8 92.42,428.93 92.67,429.64 92.92,430.86 93.17,432.68 93.42,433.22 93.67,433.61 93.92,434.18 94.17,434.54 94.42,435.96 94.67,436.42 94.92,435.35 95.17,436.24 95.42,434.93 95.67,433.85 95.92,431.39 96.16,428.93 96.41,425.3 96.66,421.96 96.91,418.45 97.16,414.61 97.41,409.56 97.66,406.46 97.91,402.3 98.16,398.52 98.41,394.48 98.61,394.59 98.81,395.16 99.01,396.72 99.21,395.08 99.41,391.96 99.61,389.98 99.81,391.52 100.01,393.82 100.21,394.48 100.41,397.44 100.61,399.55 100.81,402.72 101.01,404.43 101.21,403.96 101.41,404.96 101.66,405.5 101.91,408.33 102.16,409.46 102.41,411.66 102.66,415.06 102.91,418.45 103.16,421.62 103.41,423.78 103.66,425.94 103.91,426.47 104.15,428.84 104.4,430.43 104.65,431.25 104.9,432.4 105.15,433.43 105.4,433.84 105.65,435.6 105.9,436.42 106.15,434.07 106.4,433 106.65,431.93 106.9,429.18 107.15,427.81 107.4,424.44 107.68,421.09 107.96,419.95 108.24,416.95 108.49,414.33 108.74,413.1 108.99,410.96 109.24,408.24 109.49,405.89 109.74,403.46 109.99,401.97 110.24,399.26 110.49,397.47 110.74,394.97 110.99,393.22 111.24,392.23 111.39,393.64 111.54,397.42 111.69,398.97 111.89,400 112.08,401.39 112.28,401.22 112.48,402.6 112.68,402.26 112.88,404.21 113.08,406.03 113.28,407.76 113.48,408.71 113.73,410.9 113.98,412.2 114.23,413.95 114.48,414.91 114.73,416.36 114.98,417.7 115.23,419.04 115.48,418.73 115.73,419.94 115.98,421 116.23,421.9 116.48,422.94 116.73,422.85 116.98,421.55 117.23,419.94 117.48,420.31 117.73,419.62 117.98,418.45 118.23,417.29 118.48,416.41 118.73,416.2 118.98,414.93 119.23,413.22 119.48,412.45 119.73,411.06 119.98,410.31 120.22,408.71 120.47,407.8 120.72,405.38 120.97,403.46 121.22,402.85 121.47,400.16 121.72,399.72 121.97,399.18 122.22,400.22 122.47,398.97 122.72,396.76 122.97,395.81 123.22,394.48 123.47,395.86 123.72,398.14 123.97,401.22 124.22,402.51 124.47,403.19 124.72,402.72 124.97,403.26 125.22,402.47 125.47,403.46 125.72,404.31 125.97,405.42 126.22,407.21 126.47,410.8 126.72,414.06 126.97,416.95 127.22,418.32 127.47,419.99 127.72,421.44 127.97,421.42 128.21,423.02 128.46,423.69 128.71,424.84 128.96,424.7 129.21,424.44 129.46,423.13 129.71,423.47 129.96,422.94 130.21,422.87 130.46,421.46 130.71,421.44 130.96,421.23 131.21,419.37 131.46,418.45 131.71,418.35 131.96,417.26 132.21,416.95 132.46,414.44 132.71,410.52 132.96,406.46 133.21,402.61 133.46,397.76 133.71,394.48 133.96,392.86 134.21,390.54 134.46,389.98 134.71,388.42 134.96,387.25 135.21,384.74 135.46,386.35 135.71,389.25 135.96,391.48 136.2,392.44 136.45,393.29 136.7,394.48 136.95,398.39 137.2,402.34 137.45,404.96 137.7,409.37 137.95,412.9 138.2,416.95 138.45,420.37 138.7,421.6 138.95,424.44 139.2,426.68 139.45,428.25 139.7,429.68 139.95,430.7 140.2,431.38 140.45,431.18 140.7,430.88 140.95,431.92 141.2,431.93 141.45,431.48 141.7,431.76 141.95,431.18 142.2,431.88 142.45,430.95 142.7,430.43 142.95,428.7 143.2,428.86 143.45,428.18 143.7,426.86 143.95,425.45 144.19,422.94 144.44,419.74 144.69,416.58 144.94,412.45 145.19,406.99 145.44,404.35 145.69,398.97 145.94,395.43 146.19,391.19 146.44,386.99 146.69,389.29 146.94,390.75 147.19,391.48 147.44,390.18 147.69,391.11 147.94,389.98 148.19,393.01 148.44,394.37 148.69,397.47 148.94,400.46 149.19,402.64 149.44,404.96 149.69,408.34 149.94,413.56 150.19,416.95 150.44,418.72 150.69,422.17 150.94,424.44 151.19,425.81 151.44,426.94 151.69,428.93 151.94,429.81 152.18,430.36 152.43,431.18 152.68,430.84 152.93,432.61 153.18,431.93 153.43,430.33 153.68,429.44 153.93,429.68 154.18,427.9 154.43,426.86 154.68,424.44 154.93,422.26 155.18,419.95 155.43,416.95 155.68,412.92 155.93,409.31 156.18,404.96 156.43,402.14 156.68,399.5 156.93,397.47 157.18,395.98 157.43,393.53 157.68,392.98 157.93,391.14 158.18,391.49 158.43,389.98 158.68,390.83 158.93,393.48 159.18,394.48 159.43,398.54 159.68,401.28 159.93,404.96 160.17,407.31 160.42,409.53 160.67,410.96 160.92,414.18 161.17,415.22 161.42,418.45 161.67,418.52 161.92,419.71 162.17,420.69 162.42,421.37 162.67,421.78 162.92,422.94 163.17,422.46 163.42,424.05 163.67,424.44 163.92,426.12 164.17,425.67 164.42,426.69 164.67,425.76 164.92,424.45 165.17,423.69 165.42,424.07 165.67,425.43 165.92,425.19 166.17,422.56 166.42,420.99 166.67,418.45 166.92,416.92 167.17,415.53 167.42,413.95 167.67,413.78 167.92,411.11 168.16,410.96 168.41,412.1 168.66,411.56 168.91,412.45 169.16,410.25 169.41,408.05 169.66,404.96 169.91,403.52 170.16,401.25 170.41,399.72 170.66,400.9 170.91,399.9 171.16,401.22 171.41,402.73 171.66,403.5 171.91,404.96 172.16,406.52 172.41,408.66 172.66,409.46 172.91,411.55 173.16,412.71 173.41,413.95 173.66,415.56 173.91,417.41 174.16,419.94 174.41,420.86 174.66,421.41 174.91,422.94 175.19,422.74 175.47,424.35 175.75,423.69 176,422.41 176.25,423.33 176.5,422.19 176.75,422.7 177,423.42 177.25,424.44 177.5,423.08 177.75,421.6 178,421.44 178.25,420.86 178.5,419.78 178.75,419.94 179,417.83 179.24,415.53 179.49,413.95 179.74,413.24 179.99,411.8 180.24,409.46 180.49,406.84 180.74,404.74 180.99,401.97 181.24,401.58 181.49,399.12 181.74,398.22 181.99,398.92 182.24,400.69 182.49,402.72 182.74,403.84 182.99,406.57 183.24,407.96 183.49,410.2 183.74,412.66 183.99,415.45 184.24,419.04 184.49,420.91 184.74,424.44 184.99,423.06 185.24,420.71 185.49,418.45 185.74,416.25 185.99,415.1 186.24,412.45 186.49,412.64 186.74,414.21 186.99,413.95 187.23,416.3 187.48,416.95 187.73,418.45 187.98,418.33 188.23,418.34 188.48,416.95 188.73,418.43 188.98,419.45 189.23,419.94 189.48,419.68 189.73,418.82 189.98,416.95 190.23,415.96 190.48,414.91 190.73,412.45 190.98,410.54 191.23,409.7 191.48,407.96 191.73,407.3 191.98,405.7 192.23,404.96 192.48,405 192.73,404.81 192.98,405.71 193.23,405.88 193.48,403.92 193.73,403.46 193.98,400.42 194.23,398.26 194.48,394.48 194.73,395.35 194.98,398.39 195.22,398.97 195.47,400.22 195.72,402.02 195.97,404.96 196.22,407.16 196.47,409.67 196.72,412.45 196.97,414.79 197.22,416.22 197.47,416.95 197.72,416.97 197.97,415.82 198.22,415.45 198.47,415.29 198.72,414.42 198.97,414.7 199.22,415.12 199.47,413.98 199.72,413.95 199.97,413.52 200.22,414.23 200.47,413.95 200.72,413 200.97,413.08 201.22,413.2 201.47,414.55 201.72,413.39 201.97,414.7 202.22,412.24 202.47,410.61 202.72,409.46 202.97,406.46 203.21,404.3 203.46,401.97 203.71,397.22 203.96,393.16 204.21,389.23 204.46,389.22 204.71,389.71 204.96,390.73 205.21,394.7 205.46,397.89 205.71,401.97 205.96,402.21 206.21,403.5 206.46,403.46 206.71,403.34 206.96,404.25 207.21,405.71 207.46,407.16 207.71,407.07 207.96,407.96 208.21,410.51 208.46,411.22 208.71,413.95 208.96,415.5 209.21,417.64 209.46,418.45 209.71,418.62 209.96,419.98 210.21,419.94 210.46,419.67 210.71,418.73 210.96,418.45 211.2,417.94 211.45,415.23 211.7,413.95 211.95,411.9 212.2,410.2 212.45,407.96 212.7,407.09 212.95,407.64 213.2,406.46 213.45,406.16 213.7,405.64 213.95,404.96 214.2,406.29 214.45,408.43 214.7,408.71 214.95,408.44 215.2,406.89 215.45,404.96 215.7,402.87 215.95,400.79 216.2,398.97 216.45,397.02 216.7,394.07 216.95,392.98 217.2,394.19 217.45,397.96 217.7,398.97 217.95,399.72 218.2,402.84 218.45,403.46 218.7,404.32 218.95,405.29 219.19,404.96 219.44,405.62 219.69,407.57 219.94,409.46 220.19,411.55 220.44,411.47 220.69,413.95 220.94,414.66 221.19,416.65 221.44,418.45 221.69,418.79 221.94,419.74 222.19,421.44 222.44,422.78 222.69,422.62 222.94,424.44 223.19,426.38 223.44,426.73 223.69,427.43 223.94,425.04 224.19,425.24 224.44,422.94 224.69,421.42 224.94,420.91 225.19,419.94 225.44,419.06 225.69,417.22 225.94,416.95 226.19,415.45 226.44,413.07 226.69,412.45 226.94,409.85 227.18,409.3 227.43,406.46 227.68,405.11 227.93,402.51 228.18,400.47 228.43,400.33 228.68,400.22 228.93,398.97 229.18,395.5 229.43,393.46 229.68,390.73 229.93,392.24 230.18,394.46 230.43,397.47 230.68,397.69 230.93,398.89 231.18,400.47 231.43,401.07 231.68,402.89 231.93,404.96 232.18,407.72 232.43,411.2 232.68,413.95 232.93,418.16 233.18,421.75 233.43,424.44 233.68,427.37 233.93,429.45 234.18,431.93 234.43,434.01 234.68,433.75 234.93,435.67 235.17,434.14 235.42,434.81 235.67,433.43 235.92,433.18 236.17,431.85 236.42,431.93 236.67,430.68 236.92,429.53 237.17,428.93 237.42,427.8 237.67,426.79 237.92,425.94 238.17,422.74 238.42,420.54 238.67,416.95 238.92,415.07 239.17,412.08 239.42,409.46 239.67,407.65 239.92,405.53 240.17,404.21 240.42,403 240.67,401.69 240.92,398.97 241.17,396.43 241.42,395.38 241.67,392.98 241.92,396.87 242.17,400.29 242.42,403.46 242.67,406.02 242.92,410.56 243.16,413.95 243.41,418.35 243.66,423.33 243.91,428.93 244.16,432.09 244.41,435.22 244.66,437.92 244.91,440.17 245.16,442.4 245.41,443.91 245.66,443.82 245.91,442.87 246.16,442.42 246.41,440.01 246.66,439.96 246.91,437.92 247.16,437.32 247.41,436.1 247.66,434.18 247.91,433.62 248.16,431.75 248.41,431.93 248.66,428.32 248.91,425.15 249.16,422.94 249.41,419.22 249.66,415.04 249.91,410.96 250.16,407.33 250.41,405.87 250.66,401.97 250.91,397.93 251.15,392.78 251.4,386.99 251.65,384.42 251.9,381.57 252.15,379.49 252.4,387.4 252.65,397.12 252.9,404.96 253.18,409.36 253.46,412.51 253.75,416.95 254,420.25 254.24,422.08 254.49,424.44 254.74,426.01 254.99,427.76 255.24,429.68 255.49,430.62 255.74,430.59 255.99,431.18 256.24,431.25 256.49,429.92 256.74,430.43 256.99,430.59 257.24,429.48 257.49,429.68 257.74,429.75 257.99,427.61 258.24,427.43 258.49,427.35 258.74,428.01 258.99,428.18 259.24,425.22 259.49,422.74 259.74,419.94 259.99,418.29 260.24,414.35 260.49,412.45 260.74,411.25 260.99,409.34 261.24,407.21 261.49,406.78 261.74,405.11 261.99,404.21 262.23,402.87 262.48,401.41 262.73,400.47 262.98,401.16 263.23,401.48 263.48,402.72 263.73,402.85 263.98,404.17 264.23,404.96 264.48,405.84 264.73,407.9 264.98,409.46 265.23,411.1 265.48,412.07 265.73,413.95 265.98,414.29 266.23,416.16 266.48,416.95 266.73,418.17 266.98,417.39 267.23,418.45 267.48,418.68 267.73,418.76 267.98,418.45 268.23,419.71 268.48,419.81 268.73,419.94 268.98,419.56 269.23,419.36 269.48,419.94 269.73,419.62 269.98,417.54 270.22,416.95 270.47,415.22 270.72,416.19 270.97,414.7 271.22,412.85 271.47,411.83 271.72,410.96 271.97,408.85 272.22,406.97 272.47,405.71 272.72,402.91 272.97,398.91 273.22,395.97 273.47,396.35 273.72,396.81 273.97,397.47 274.22,399.14 274.47,398.51 274.72,400.47 274.97,400.13 275.22,398.73 275.47,398.97 275.72,400.02 275.97,402.68 276.22,404.21 276.47,406.71 276.72,408.84 276.97,412.45 277.22,415.13 277.47,418.28 277.72,419.94 277.97,421.73 278.21,422.93 278.46,424.44 278.71,426.04 278.96,427.27 279.21,427.43 279.46,426.49 279.71,426.53 279.96,426.69 280.21,427.37 280.46,427.04 280.71,425.94 280.96,424.34 281.21,424.35 281.46,422.94 281.71,423.19 281.96,422.12 282.21,421.44 282.46,419.35 282.71,416.5 282.96,413.95 283.21,410.42 283.46,407.38 283.71,404.96 283.96,401.59 284.21,400.3 284.46,397.47 284.71,396.25 284.96,396.72 285.21,395.97 285.46,395.51 285.71,395.35 285.96,395.22 286.2,399.41 286.45,401.5 286.7,404.96 286.95,405.66 287.2,406.22 287.45,407.21 287.7,407.89 287.95,409.15 288.2,410.96 288.45,412.02 288.7,413.59 288.95,413.95 289.2,414.63 289.45,417.84 289.7,418.45 289.95,421.29 290.2,422.55 290.45,425.94 290.7,428.6 290.95,430.23 291.2,432.68 291.35,433.71 291.5,433.88 291.65,435.67 291.85,433.95 292.05,432.22 292.25,430.43 292.5,429.75 292.75,428.1 293,426.69 293.25,425.85 293.5,424.66 293.75,422.94 294,421.38 294.24,419.99 294.49,419.94 294.74,419.4 294.99,418.2 295.24,418.45 295.44,415.73 295.64,414.09 295.84,412.45 296.04,411.53 296.24,410.69 296.44,409.46 296.69,407.75 296.94,406.35 297.19,403.46 297.44,400.67 297.69,399.59 297.94,397.47 298.09,394.65 298.24,393.82 298.39,391.48 298.54,394.35 298.69,396.75 298.84,400.47 299.04,403.09 299.24,406.78 299.44,409.46 299.69,410.9 299.94,413.34 300.19,413.95 300.44,415.66 300.69,417.63 300.94,419.94 301.19,423.79 301.44,426.15 301.69,428.93 301.94,431.14 302.18,435.49 302.43,437.92 302.68,436.65 302.93,436.82 303.18,434.93 303.43,434.2 303.68,433.54 303.93,431.93 304.18,432.72 304.43,431.95 304.68,431.93 304.93,432.36 305.18,429.98 305.43,430.43 305.68,429.11 305.93,429.11 306.18,427.43 306.43,424.45 306.68,423.78 306.93,421.44 307.18,420.94 307.43,418.88 307.68,416.95 307.93,416.17 308.18,413.1 308.43,412.45 308.68,410.04 308.93,407.68 309.18,404.96 309.43,403.34 309.68,401.81 309.93,400.47 310.17,400.55 310.42,398.79 310.67,398.97 310.82,397.31 310.97,397.66 311.12,396.72 311.32,400.4 311.52,402.87 311.72,404.96 311.92,407.31 312.12,408.55 312.32,410.96 312.52,412.26 312.72,411.03 312.92,412.45 313.17,412.45 313.42,414.03 313.67,413.95 313.92,416.24 314.17,416.75 314.42,418.45 314.67,419.51 314.92,418.17 315.17,419.19 315.42,418.64 315.67,416.83 315.92,416.95 316.17,415.91 316.42,415.33 316.67,415.45 316.92,414.96 317.17,416.26 317.42,416.95 317.67,417.95 317.92,418.51 318.16,419.94 318.41,419.75 318.66,418.05 318.91,418.45 319.11,414.49 319.31,410.51 319.51,406.46 319.66,405.77 319.81,406.29 319.96,404.96" fill="none" stroke="#3f85c4" stroke-width="1.2" stroke-linejoin="round"/>
<g font-family="Liberation Sans, sans-serif">
<text transform="translate(5.8,252.8) scale(1.1,1)" font-size="19.5" font-weight="bold" fill="#000">b</text>
<text x="19.5" y="266.6" font-size="8.6" fill="#000" text-anchor="start">Coverage</text>
<text x="19.8" y="373.2" font-size="8.7" fill="#000" text-anchor="start">L–WPS</text>
<text x="14.2" y="291.4" font-size="8.7" fill="#4d4d4d" text-anchor="end">30</text>
<text x="14.2" y="311.7" font-size="8.7" fill="#4d4d4d" text-anchor="end">20</text>
<text x="14.2" y="331.9" font-size="8.7" fill="#4d4d4d" text-anchor="end">10</text>
<text x="14.2" y="396.9" font-size="8.7" fill="#4d4d4d" text-anchor="end">0</text>
<text x="14.2" y="415.6" font-size="8.7" fill="#4d4d4d" text-anchor="end">−20</text>
<text x="14.2" y="433.9" font-size="8.7" fill="#4d4d4d" text-anchor="end">−40</text>
<text x="28.4" y="456.8" font-size="8.6" fill="#4d4d4d" text-anchor="middle">34,442,000</text>
<text x="87.4" y="456.8" font-size="8.6" fill="#4d4d4d" text-anchor="middle">34,443,000</text>
<text x="146.4" y="456.8" font-size="8.6" fill="#4d4d4d" text-anchor="middle">34,444,000</text>
<text x="205.4" y="456.8" font-size="8.6" fill="#4d4d4d" text-anchor="middle">34,445,000</text>
<text x="264.4" y="456.8" font-size="8.6" fill="#4d4d4d" text-anchor="middle">34,446,000</text>
<text x="323.4" y="456.8" font-size="8.6" fill="#4d4d4d" text-anchor="middle">34,447,000</text>
<text x="175.5" y="466.9" font-size="8.6" fill="#000" text-anchor="middle">Chr12</text>
</g>
<g font-family="Liberation Sans, sans-serif">
<text x="361.5" y="21.5" font-size="19.5" fill="#000" text-anchor="start" font-weight="bold">c</text>
<text x="401.6" y="7.7" font-size="10.6" fill="#000" text-anchor="start" font-weight="bold" textLength="54.9" lengthAdjust="spacingAndGlyphs">chromatin</text>
<text x="425.8" y="114" font-size="9.9" fill="#000" text-anchor="start" font-weight="bold" textLength="27.2" lengthAdjust="spacingAndGlyphs">hg19</text>
<text x="419" y="208.2" font-size="10.5" fill="#000" text-anchor="start" font-weight="bold" textLength="33.4" lengthAdjust="spacingAndGlyphs">cfDNA</text>
<text x="383.9" y="274" font-size="9.8" fill="#000" text-anchor="start" font-weight="bold" textLength="79.4" lengthAdjust="spacingAndGlyphs">Illumina reads</text>
<text x="385" y="284.8" font-size="8.5" fill="#555" text-anchor="start" textLength="76.6" lengthAdjust="spacingAndGlyphs">single-end, 51 bp</text>
<text x="522.6" y="68.2" font-size="12.8" fill="#cd5c5c" text-anchor="start" textLength="129.4" lengthAdjust="spacingAndGlyphs">nucleosome spacing</text>
<text x="501" y="157.9" font-size="13" fill="#cd5c5c" text-anchor="start" textLength="44.2" lengthAdjust="spacingAndGlyphs">167 bp</text>
</g>
<line x1="461.5" y1="4.3" x2="685" y2="4.3" stroke="#000" stroke-width="1.4"/>
<line x1="493.4" y1="4.5" x2="486.6" y2="87.5" stroke="#cbcbcb" stroke-width="2.0"/>
<polyline points="482.87,79.17 486.6,87.5 491.64,79.89" fill="none" stroke="#cbcbcb" stroke-width="2.0" stroke-linejoin="miter"/>
<line x1="530.7" y1="4.5" x2="552.4" y2="87.5" stroke="#cbcbcb" stroke-width="2.0"/>
<polyline points="546.12,80.87 552.4,87.5 554.63,78.65" fill="none" stroke="#cbcbcb" stroke-width="2.0" stroke-linejoin="miter"/>
<line x1="618.3" y1="4.5" x2="596.4" y2="87.5" stroke="#cbcbcb" stroke-width="2.0"/>
<polyline points="594.19,78.64 596.4,87.5 602.7,80.89" fill="none" stroke="#cbcbcb" stroke-width="2.0" stroke-linejoin="miter"/>
<line x1="657.5" y1="4.5" x2="662.2" y2="87.5" stroke="#cbcbcb" stroke-width="2.0"/>
<polyline points="657.35,79.76 662.2,87.5 666.14,79.26" fill="none" stroke="#cbcbcb" stroke-width="2.0" stroke-linejoin="miter"/>
<circle cx="508" cy="20.2" r="16.2" fill="none" stroke="#000" stroke-width="1.6"/>
<circle cx="514.8" cy="20.2" r="16.2" fill="none" stroke="#000" stroke-width="1.6"/>
<circle cx="634.8" cy="20.2" r="16.2" fill="none" stroke="#000" stroke-width="1.6"/>
<circle cx="641.6" cy="20.2" r="16.2" fill="none" stroke="#000" stroke-width="1.6"/>
<rect x="486" y="88.8" width="66" height="47.8" fill="#e0e0e0"/>
<rect x="596.3" y="88.8" width="66.1" height="47.8" fill="#e0e0e0"/>
<line x1="460.4" y1="112.6" x2="685" y2="112.6" stroke="#000" stroke-width="1.4"/>
<line x1="486" y1="88.8" x2="486" y2="136.6" stroke="#000" stroke-width="1.8"/>
<line x1="552" y1="88.8" x2="552" y2="136.6" stroke="#000" stroke-width="1.8"/>
<line x1="596.5" y1="88.8" x2="596.5" y2="136.6" stroke="#000" stroke-width="1.8"/>
<line x1="662.2" y1="88.8" x2="662.2" y2="136.6" stroke="#000" stroke-width="1.8"/>
<line x1="518.8" y1="91.6" x2="518.8" y2="137" stroke="#000" stroke-width="1.6" stroke-dasharray="1.6 5.7" stroke-dashoffset="0.8"/>
<line x1="629.3" y1="91.6" x2="629.3" y2="137" stroke="#000" stroke-width="1.6" stroke-dasharray="1.6 5.7" stroke-dashoffset="0.8"/>
<line x1="522.3" y1="77.8" x2="626" y2="77.8" stroke="#cd5c5c" stroke-width="2.0"/>
<polyline points="528.8,73.6 521.3,77.8 528.8,82" fill="none" stroke="#cd5c5c" stroke-width="2.0"/>
<polyline points="619.5,73.6 627,77.8 619.5,82" fill="none" stroke="#cd5c5c" stroke-width="2.0"/>
<line x1="489.4" y1="142.4" x2="548.6" y2="142.4" stroke="#cd5c5c" stroke-width="2.0"/>
<polyline points="495.9,138.2 488.4,142.4 495.9,146.6" fill="none" stroke="#cd5c5c" stroke-width="2.0"/>
<polyline points="542.1,138.2 549.6,142.4 542.1,146.6" fill="none" stroke="#cd5c5c" stroke-width="2.0"/>
<rect x="486" y="180.5" width="65.8" height="46.3" fill="#e0e0e0"/>
<rect x="596" y="180.5" width="66.3" height="46.3" fill="#e0e0e0"/>
<line x1="480.5" y1="181.3" x2="557.2" y2="181.3" stroke="#000" stroke-width="1.9"/>
<line x1="475.1" y1="191.5" x2="551.8" y2="191.5" stroke="#000" stroke-width="1.9"/>
<line x1="486" y1="201.7" x2="562.7" y2="201.7" stroke="#000" stroke-width="1.9"/>
<line x1="475.1" y1="211.8" x2="551.8" y2="211.8" stroke="#000" stroke-width="1.9"/>
<line x1="486" y1="222" x2="562.7" y2="222" stroke="#000" stroke-width="1.9"/>
<line x1="583.1" y1="181.6" x2="659.8" y2="181.6" stroke="#000" stroke-width="1.9"/>
<line x1="594" y1="191.8" x2="670.4" y2="191.8" stroke="#000" stroke-width="1.9"/>
<line x1="583.1" y1="202" x2="659.8" y2="202" stroke="#000" stroke-width="1.9"/>
<line x1="594" y1="212.2" x2="670.4" y2="212.2" stroke="#000" stroke-width="1.9"/>
<line x1="588.5" y1="222.4" x2="664.8" y2="222.4" stroke="#000" stroke-width="1.9"/>
<rect x="486.4" y="254.8" width="66.1" height="47.4" fill="#e0e0e0"/>
<rect x="597" y="254.8" width="66" height="47.4" fill="#e0e0e0"/>
<line x1="480.6" y1="259.7" x2="555.5" y2="259.7" stroke="#a8a8a8" stroke-width="1.6"/>
<line x1="475.4" y1="269.9" x2="551.8" y2="269.9" stroke="#a8a8a8" stroke-width="1.6"/>
<line x1="485.9" y1="280" x2="562.7" y2="280" stroke="#a8a8a8" stroke-width="1.6"/>
<line x1="475" y1="290.2" x2="549.8" y2="290.2" stroke="#a8a8a8" stroke-width="1.6"/>
<line x1="486.4" y1="300.6" x2="561.2" y2="300.6" stroke="#a8a8a8" stroke-width="1.6"/>
<line x1="584.3" y1="260" x2="659.8" y2="260" stroke="#a8a8a8" stroke-width="1.6"/>
<line x1="594" y1="270.1" x2="670.3" y2="270.1" stroke="#a8a8a8" stroke-width="1.6"/>
<line x1="584.3" y1="280.4" x2="659.8" y2="280.4" stroke="#a8a8a8" stroke-width="1.6"/>
<line x1="593.1" y1="290.5" x2="670.9" y2="290.5" stroke="#a8a8a8" stroke-width="1.6"/>
<line x1="588.7" y1="301" x2="665.4" y2="301" stroke="#a8a8a8" stroke-width="1.6"/>
<line x1="555.5" y1="259.7" x2="531.7" y2="259.7" stroke="#5593cf" stroke-width="2"/>
<polyline points="537.4,256.1 530.9,259.7 537.4,263.3" fill="none" stroke="#5593cf" stroke-width="2"/>
<circle cx="555.5" cy="259.7" r="2.8" fill="#d45a5a"/>
<line x1="475.4" y1="269.9" x2="499.6" y2="269.9" stroke="#5593cf" stroke-width="2"/>
<polyline points="493.9,266.3 500.4,269.9 493.9,273.5" fill="none" stroke="#5593cf" stroke-width="2"/>
<circle cx="475.4" cy="269.9" r="2.8" fill="#d45a5a"/>
<line x1="485.9" y1="280" x2="510.1" y2="280" stroke="#5593cf" stroke-width="2"/>
<polyline points="504.4,276.4 510.9,280 504.4,283.6" fill="none" stroke="#5593cf" stroke-width="2"/>
<circle cx="485.9" cy="280" r="2.8" fill="#d45a5a"/>
<line x1="549.8" y1="290.2" x2="526" y2="290.2" stroke="#5593cf" stroke-width="2"/>
<polyline points="531.7,286.6 525.2,290.2 531.7,293.8" fill="none" stroke="#5593cf" stroke-width="2"/>
<circle cx="549.8" cy="290.2" r="2.8" fill="#d45a5a"/>
<line x1="561.2" y1="300.6" x2="537.4" y2="300.6" stroke="#5593cf" stroke-width="2"/>
<polyline points="543.1,297 536.6,300.6 543.1,304.2" fill="none" stroke="#5593cf" stroke-width="2"/>
<circle cx="561.2" cy="300.6" r="2.8" fill="#d45a5a"/>
<line x1="584.3" y1="260" x2="608.5" y2="260" stroke="#5593cf" stroke-width="2"/>
<polyline points="602.8,256.4 609.3,260 602.8,263.6" fill="none" stroke="#5593cf" stroke-width="2"/>
<circle cx="584.3" cy="260" r="2.8" fill="#d45a5a"/>
<line x1="670.3" y1="270.1" x2="646.5" y2="270.1" stroke="#5593cf" stroke-width="2"/>
<polyline points="652.2,266.5 645.7,270.1 652.2,273.7" fill="none" stroke="#5593cf" stroke-width="2"/>
<circle cx="670.3" cy="270.1" r="2.8" fill="#d45a5a"/>
<line x1="584.3" y1="280.4" x2="608.5" y2="280.4" stroke="#5593cf" stroke-width="2"/>
<polyline points="602.8,276.8 609.3,280.4 602.8,284" fill="none" stroke="#5593cf" stroke-width="2"/>
<circle cx="584.3" cy="280.4" r="2.8" fill="#d45a5a"/>
<line x1="593.1" y1="290.5" x2="617.3" y2="290.5" stroke="#5593cf" stroke-width="2"/>
<polyline points="611.6,286.9 618.1,290.5 611.6,294.1" fill="none" stroke="#5593cf" stroke-width="2"/>
<circle cx="593.1" cy="290.5" r="2.8" fill="#d45a5a"/>
<line x1="665.4" y1="301" x2="641.6" y2="301" stroke="#5593cf" stroke-width="2"/>
<polyline points="647.3,297.4 640.8,301 647.3,304.6" fill="none" stroke="#5593cf" stroke-width="2"/>
<circle cx="665.4" cy="301" r="2.8" fill="#d45a5a"/>
<g>
<line x1="413.31" y1="337" x2="413.31" y2="446" stroke="#ebebeb" stroke-width="1"/>
<line x1="456.04" y1="337" x2="456.04" y2="446" stroke="#ebebeb" stroke-width="1"/>
<line x1="498.77" y1="337" x2="498.77" y2="446" stroke="#ebebeb" stroke-width="1"/>
<line x1="541.5" y1="337" x2="541.5" y2="446" stroke="#ebebeb" stroke-width="1"/>
<line x1="584.23" y1="337" x2="584.23" y2="446" stroke="#ebebeb" stroke-width="1"/>
<line x1="626.96" y1="337" x2="626.96" y2="446" stroke="#ebebeb" stroke-width="1"/>
<line x1="669.69" y1="337" x2="669.69" y2="446" stroke="#ebebeb" stroke-width="1"/>
<line x1="413.2" y1="442.6" x2="669.8" y2="442.6" stroke="#ebebeb" stroke-width="1"/>
<line x1="413.2" y1="425.05" x2="669.8" y2="425.05" stroke="#f3f3f3" stroke-width="1"/>
<line x1="413.2" y1="407.5" x2="669.8" y2="407.5" stroke="#ebebeb" stroke-width="1"/>
<line x1="413.2" y1="389.95" x2="669.8" y2="389.95" stroke="#f3f3f3" stroke-width="1"/>
<line x1="413.2" y1="372.4" x2="669.8" y2="372.4" stroke="#ebebeb" stroke-width="1"/>
<line x1="413.2" y1="354.85" x2="669.8" y2="354.85" stroke="#f3f3f3" stroke-width="1"/>
</g>
<polygon points="413.2,439.6 430,438.2 445,436.8 456.4,435.3 467,433.3 478,431.8 485.1,430.2 489,428.3 492.2,425.8 494.8,421.8 496.7,415.6 498,410 499.3,401.5 500.6,392 501.9,382 503,368 503.8,356.9 505.2,348.4 506.6,344.1 507.6,342.7 508.5,342.2 509.4,342.9 510.4,344.6 512.3,349.3 514.2,354 516.5,359.2 518.9,363.5 520.8,367 522.6,369 526,369.9 530,370.3 541.6,370.8 553.6,370.3 557.6,369.9 561,369 562.8,367 564.7,363.5 567.1,359.2 569.4,354 571.3,349.3 573.2,344.6 574.2,342.9 575.1,342.2 576,342.7 577,344.1 578.4,348.4 579.8,356.9 580.6,368 581.7,382 583,392 584.3,401.5 585.6,410 586.9,415.6 588.8,421.8 591.4,425.8 594.6,428.3 598.5,430.2 605.6,431.8 616.6,433.3 627.2,435.3 638.6,436.8 653.6,438.2 670.4,439.6 670.4,441.9 653.6,440.6 638.6,439.2 627.2,437.7 616.6,435.7 605.6,434.2 598.5,432.8 594.6,431 591.4,428.7 588.8,425.4 586.9,421 585.4,415.5 583.6,406 582,396 580.6,387.5 579.4,380 578.7,372 578,364 577.1,359.5 576.1,358.4 575.1,358.2 573.2,358.4 572.1,359.2 570.4,361.6 567.6,368.2 564.7,372.9 561.9,375.7 559.1,376.8 553.6,377.9 541.6,379.2 530,377.9 524.5,376.8 521.7,375.7 518.9,372.9 516,368.2 513.2,361.6 511.5,359.2 510.4,358.4 508.5,358.2 507.5,358.4 506.5,359.5 505.6,364 504.9,372 504.2,380 503,387.5 501.6,396 500,406 498.2,415.5 496.7,421 494.8,425.4 492.2,428.7 489,431 485.1,432.8 478,434.2 467,435.7 456.4,437.7 445,439.2 430,440.6 413.2,441.9" fill="#3a7fc1" stroke="#3a7fc1" stroke-width="0.6" stroke-linejoin="round"/>
<defs>
<linearGradient id="gT" gradientUnits="userSpaceOnUse" x1="517" y1="0" x2="566" y2="0"><stop offset="0" stop-color="#000"/><stop offset="0.09" stop-color="#fff"/><stop offset="0.91" stop-color="#fff"/><stop offset="1" stop-color="#000"/></linearGradient>
<linearGradient id="gP1" gradientUnits="userSpaceOnUse" x1="504.6" y1="0" x2="512.6" y2="0"><stop offset="0" stop-color="#000"/><stop offset="0.22" stop-color="#fff"/><stop offset="0.75" stop-color="#fff"/><stop offset="1" stop-color="#000"/></linearGradient>
<linearGradient id="gP2" gradientUnits="userSpaceOnUse" x1="571" y1="0" x2="579" y2="0"><stop offset="0" stop-color="#000"/><stop offset="0.25" stop-color="#fff"/><stop offset="0.78" stop-color="#fff"/><stop offset="1" stop-color="#000"/></linearGradient>
<mask id="redmask" maskUnits="userSpaceOnUse" x="400" y="320" width="280" height="130">
<rect x="504.6" y="330" width="8" height="28" fill="url(#gP1)"/>
<rect x="571" y="330" width="8" height="28" fill="url(#gP2)"/>
<rect x="517" y="358" width="49" height="24" fill="url(#gT)"/>
</mask>
<mask id="palemask" maskUnits="userSpaceOnUse" x="400" y="320" width="280" height="130">
<rect x="496" y="358" width="12" height="90" fill="#fff"/>
<rect x="504.6" y="330" width="8" height="28" fill="url(#gP1)"/>
<rect x="571" y="330" width="8" height="28" fill="url(#gP2)"/>
<rect x="517" y="358" width="49" height="24" fill="url(#gT)"/>
<rect x="575.5" y="358" width="12" height="90" fill="#fff"/>
</mask>
</defs>
<polyline points="413.2,440.06 413.7,440.03 414.2,439.99 414.7,439.96 415.2,439.92 415.7,439.89 416.2,439.85 416.7,439.82 417.2,439.78 417.7,439.75 418.2,439.71 418.7,439.68 419.2,439.64 419.7,439.61 420.2,439.57 420.7,439.54 421.2,439.5 421.7,439.47 422.2,439.43 422.7,439.4 423.2,439.36 423.7,439.33 424.2,439.29 424.7,439.26 425.2,439.22 425.7,439.18 426.2,439.15 426.7,439.11 427.2,439.08 427.7,439.04 428.2,439.01 428.7,438.97 429.2,438.94 429.7,438.9 430.2,438.87 430.7,438.83 431.2,438.79 431.7,438.75 432.2,438.71 432.7,438.67 433.2,438.63 433.7,438.59 434.2,438.55 434.7,438.51 435.2,438.47 435.7,438.43 436.2,438.39 436.7,438.35 437.2,438.31 437.7,438.27 438.2,438.24 438.7,438.2 439.2,438.16 439.7,438.12 440.2,438.08 440.7,438.04 441.2,438 441.7,437.96 442.2,437.92 442.7,437.88 443.2,437.84 443.7,437.8 444.2,437.76 444.7,437.72 445.2,437.68 445.7,437.62 446.2,437.57 446.7,437.51 447.2,437.45 447.7,437.4 448.2,437.34 448.7,437.29 449.2,437.23 449.7,437.18 450.2,437.12 450.7,437.07 451.2,437.01 451.7,436.95 452.2,436.9 452.7,436.84 453.2,436.79 453.7,436.73 454.2,436.68 454.7,436.62 455.2,436.56 455.7,436.51 456.2,436.45 456.7,436.38 457.2,436.3 457.7,436.22 458.2,436.14 458.7,436.06 459.2,435.99 459.7,435.91 460.2,435.83 460.7,435.75 461.2,435.67 461.7,435.59 462.2,435.51 462.7,435.43 463.2,435.35 463.7,435.27 464.2,435.19 464.7,435.11 465.2,435.03 465.7,434.95 466.2,434.87 466.7,434.79 467.2,434.72 467.7,434.66 468.2,434.6 468.7,434.55 469.2,434.49 469.7,434.43 470.2,434.37 470.7,434.32 471.2,434.26 471.7,434.2 472.2,434.14 472.7,434.08 473.2,434.03 473.7,433.97 474.2,433.91 474.7,433.85 475.2,433.8 475.7,433.74 476.2,433.68 476.7,433.62 477.2,433.57 477.7,433.51 478.2,433.44 478.7,433.34 479.2,433.25 479.7,433.15 480.2,433.06 480.7,432.96 481.2,432.86 481.7,432.77 482.2,432.67 482.7,432.58 483.2,432.48 483.7,432.39 484.2,432.29 484.7,432.2 485.2,432.08 485.7,431.88 486.2,431.67 486.7,431.46 487.2,431.26 487.7,431.05 488.2,430.85 488.7,430.64 489.2,430.38 489.7,430.05 490.2,429.72 490.7,429.39 491.2,429.06 491.7,428.73 492.2,428.4 492.7,427.75 493.2,427.1 493.7,426.45 494.2,425.8 494.7,425.15 495.2,423.92 495.7,422.54 496.2,421.16 496.7,419.79 497.2,417.97 497.7,416.15 498.2,413.95 498.7,411.19 499.2,408.42 499.7,405.4 500.2,402.31 500.7,399.19 501.2,395.94 501.7,392.69 502.2,388.17 502.7,382.79 503.2,377.22 503.7,371.36 504.2,368.13 504.7,365.57 505.2,363 505.7,361.7 506.2,360.41 506.7,359.25 507.2,358.66 507.7,358.14 508.2,357.9 508.7,357.89 509.2,357.9 509.7,357.68 510.2,357.62 510.7,357.79 511.2,358.1 511.7,358.43 512.2,358.79 512.7,359.16 513.2,359.55 513.7,359.97 514.2,360.4 514.7,360.75 515.2,361.12 515.7,361.51 516.2,361.92 516.7,362.25 517.2,362.47 517.7,362.69 518.2,362.93 518.7,363.19 519.2,363.48 519.7,363.79 520.2,364.11 520.7,364.45 521.2,364.74 521.7,365.31 522.2,365.89 522.7,366.38 523.2,366.51 523.7,366.65 524.2,366.79 524.7,366.93 525.2,367.06 525.7,367.2 526.2,367.3 526.7,367.36 527.2,367.41 527.7,367.46 528.2,367.51 528.7,367.56 529.2,367.61 529.7,367.67 530.2,367.71 530.7,367.73 531.2,367.75 531.7,367.77 532.2,367.8 532.7,367.82 533.2,367.84 533.7,367.86 534.2,367.88 534.7,367.91 535.2,367.93 535.7,367.95 536.2,367.97 536.7,368 537.2,368.02 537.7,368.04 538.2,368.06 538.7,368.09 539.2,368.11 539.7,368.13 540.2,368.15 540.7,368.18 541.2,368.2 542.9,368.18 543.4,368.15 543.9,368.13 544.4,368.11 544.9,368.09 545.4,368.06 545.9,368.04 546.4,368.02 546.9,368 547.4,367.97 547.9,367.95 548.4,367.93 548.9,367.91 549.4,367.88 549.9,367.86 550.4,367.84 550.9,367.82 551.4,367.8 551.9,367.77 552.4,367.75 552.9,367.73 553.4,367.71 553.9,367.67 554.4,367.61 554.9,367.56 555.4,367.51 555.9,367.46 556.4,367.41 556.9,367.36 557.4,367.3 557.9,367.2 558.4,367.06 558.9,366.93 559.4,366.79 559.9,366.65 560.4,366.51 560.9,366.38 561.4,365.89 561.9,365.31 562.4,364.74 562.9,364.45 563.4,364.11 563.9,363.79 564.4,363.48 564.9,363.19 565.4,362.93 565.9,362.69 566.4,362.47 566.9,362.25 567.4,361.92 567.9,361.51 568.4,361.12 568.9,360.75 569.4,360.4 569.9,359.97 570.4,359.55 570.9,359.16 571.4,358.79 571.9,358.43 572.4,358.1 572.9,357.79 573.4,357.62 573.9,357.68 574.4,357.9 574.9,357.89 575.4,357.9 575.9,358.14 576.4,358.66 576.9,359.25 577.4,360.41 577.9,361.7 578.4,363 578.9,365.57 579.4,368.13 579.9,371.36 580.4,377.22 580.9,382.79 581.4,388.17 581.9,392.69 582.4,395.94 582.9,399.19 583.4,402.31 583.9,405.4 584.4,408.42 584.9,411.19 585.4,413.95 585.9,416.15 586.4,417.97 586.9,419.79 587.4,421.16 587.9,422.54 588.4,423.92 588.9,425.15 589.4,425.8 589.9,426.45 590.4,427.1 590.9,427.75 591.4,428.4 591.9,428.73 592.4,429.06 592.9,429.39 593.4,429.72 593.9,430.05 594.4,430.38 594.9,430.64 595.4,430.85 595.9,431.05 596.4,431.26 596.9,431.46 597.4,431.67 597.9,431.88 598.4,432.08 598.9,432.2 599.4,432.29 599.9,432.39 600.4,432.48 600.9,432.58 601.4,432.67 601.9,432.77 602.4,432.86 602.9,432.96 603.4,433.06 603.9,433.15 604.4,433.25 604.9,433.34 605.4,433.44 605.9,433.51 606.4,433.57 606.9,433.62 607.4,433.68 607.9,433.74 608.4,433.8 608.9,433.85 609.4,433.91 609.9,433.97 610.4,434.03 610.9,434.08 611.4,434.14 611.9,434.2 612.4,434.26 612.9,434.32 613.4,434.37 613.9,434.43 614.4,434.49 614.9,434.55 615.4,434.6 615.9,434.66 616.4,434.72 616.9,434.79 617.4,434.87 617.9,434.95 618.4,435.03 618.9,435.11 619.4,435.19 619.9,435.27 620.4,435.35 620.9,435.43 621.4,435.51 621.9,435.59 622.4,435.67 622.9,435.75 623.4,435.83 623.9,435.91 624.4,435.99 624.9,436.06 625.4,436.14 625.9,436.22 626.4,436.3 626.9,436.38 627.4,436.45 627.9,436.51 628.4,436.56 628.9,436.62 629.4,436.68 629.9,436.73 630.4,436.79 630.9,436.84 631.4,436.9 631.9,436.95 632.4,437.01 632.9,437.07 633.4,437.12 633.9,437.18 634.4,437.23 634.9,437.29 635.4,437.34 635.9,437.4 636.4,437.45 636.9,437.51 637.4,437.57 637.9,437.62 638.4,437.68 638.9,437.72 639.4,437.76 639.9,437.8 640.4,437.84 640.9,437.88 641.4,437.92 641.9,437.96 642.4,438 642.9,438.04 643.4,438.08 643.9,438.12 644.4,438.16 644.9,438.2 645.4,438.24 645.9,438.27 646.4,438.31 646.9,438.35 647.4,438.39 647.9,438.43 648.4,438.47 648.9,438.51 649.4,438.55 649.9,438.59 650.4,438.63 650.9,438.67 651.4,438.71 651.9,438.75 652.4,438.79 652.9,438.83 653.4,438.87 653.9,438.9 654.4,438.94 654.9,438.97 655.4,439.01 655.9,439.04 656.4,439.08 656.9,439.11 657.4,439.15 657.9,439.18 658.4,439.22 658.9,439.26 659.4,439.29 659.9,439.33 660.4,439.36 660.9,439.4 661.4,439.43 661.9,439.47 662.4,439.5 662.9,439.54 663.4,439.57 663.9,439.61 664.4,439.64 664.9,439.68 665.4,439.71 665.9,439.75 666.4,439.78 666.9,439.82 667.4,439.85 667.9,439.89 668.4,439.92 668.9,439.96 669.4,439.99 669.9,440.03 670.4,440.06" fill="none" stroke="#ec6868" stroke-width="0.8" stroke-linejoin="round" mask="url(#palemask)" opacity="0.6"/>
<polyline points="413.2,440.01 413.7,439.97 414.2,439.94 414.7,439.9 415.2,439.86 415.7,439.83 416.2,439.79 416.7,439.76 417.2,439.72 417.7,439.68 418.2,439.65 418.7,439.61 419.2,439.58 419.7,439.54 420.2,439.5 420.7,439.47 421.2,439.43 421.7,439.4 422.2,439.36 422.7,439.32 423.2,439.29 423.7,439.25 424.2,439.22 424.7,439.18 425.2,439.14 425.7,439.11 426.2,439.07 426.7,439.04 427.2,439 427.7,438.96 428.2,438.93 428.7,438.89 429.2,438.86 429.7,438.82 430.2,438.78 430.7,438.74 431.2,438.7 431.7,438.66 432.2,438.62 432.7,438.58 433.2,438.54 433.7,438.5 434.2,438.46 434.7,438.42 435.2,438.38 435.7,438.34 436.2,438.3 436.7,438.26 437.2,438.22 437.7,438.18 438.2,438.14 438.7,438.1 439.2,438.06 439.7,438.02 440.2,437.98 440.7,437.94 441.2,437.9 441.7,437.85 442.2,437.81 442.7,437.77 443.2,437.73 443.7,437.69 444.2,437.65 444.7,437.61 445.2,437.57 445.7,437.51 446.2,437.45 446.7,437.4 447.2,437.34 447.7,437.28 448.2,437.23 448.7,437.17 449.2,437.11 449.7,437.05 450.2,437 450.7,436.94 451.2,436.88 451.7,436.83 452.2,436.77 452.7,436.71 453.2,436.66 453.7,436.6 454.2,436.54 454.7,436.49 455.2,436.43 455.7,436.37 456.2,436.32 456.7,436.24 457.2,436.16 457.7,436.08 458.2,436 458.7,435.92 459.2,435.84 459.7,435.75 460.2,435.67 460.7,435.59 461.2,435.51 461.7,435.43 462.2,435.35 462.7,435.27 463.2,435.18 463.7,435.1 464.2,435.02 464.7,434.94 465.2,434.86 465.7,434.78 466.2,434.7 466.7,434.61 467.2,434.54 467.7,434.48 468.2,434.42 468.7,434.36 469.2,434.31 469.7,434.25 470.2,434.19 470.7,434.13 471.2,434.07 471.7,434.01 472.2,433.95 472.7,433.89 473.2,433.83 473.7,433.78 474.2,433.72 474.7,433.66 475.2,433.6 475.7,433.54 476.2,433.48 476.7,433.42 477.2,433.36 477.7,433.3 478.2,433.23 478.7,433.13 479.2,433.04 479.7,432.94 480.2,432.84 480.7,432.74 481.2,432.65 481.7,432.55 482.2,432.45 482.7,432.35 483.2,432.26 483.7,432.16 484.2,432.06 484.7,431.96 485.2,431.84 485.7,431.63 486.2,431.42 486.7,431.21 487.2,431 487.7,430.79 488.2,430.58 488.7,430.37 489.2,430.11 489.7,429.77 490.2,429.43 490.7,429.1 491.2,428.76 491.7,428.42 492.2,428.08 492.7,427.42 493.2,426.76 493.7,426.09 494.2,425.43 494.7,424.76 495.2,423.5 495.7,422.09 496.2,420.68 496.7,419.27 497.2,417.41 497.7,415.55 498.2,413.3 498.7,410.48 499.2,407.65 499.7,404.56 500.2,401.41 500.7,398.22 501.2,394.89 501.7,391.57 502.2,386.94 502.7,381.44 503.2,375.75 503.7,369.75 504.2,366.46 504.7,363.83 505.2,361.21 505.7,359.88 506.2,358.56 506.7,357.38 507.2,356.77 507.7,356.24 508.2,356 508.7,355.99 509.2,356.07 509.7,356 510.2,356.1 510.7,356.42 511.2,356.89 511.7,357.38 512.2,357.88 512.7,358.4 513.2,358.94 513.7,359.49 514.2,360.06 514.7,360.54 515.2,361.04 515.7,361.56 516.2,362.09 516.7,362.54 517.2,362.87 517.7,363.21 518.2,363.56 518.7,363.93 519.2,364.32 519.7,364.73 520.2,365.16 520.7,365.6 521.2,365.94 521.7,366.51 522.2,367.07 522.7,367.56 523.2,367.69 523.7,367.83 524.2,367.96 524.7,368.1 525.2,368.23 525.7,368.37 526.2,368.47 526.7,368.52 527.2,368.57 527.7,368.62 528.2,368.67 528.7,368.72 529.2,368.77 529.7,368.82 530.2,368.86 530.7,368.88 531.2,368.91 531.7,368.93 532.2,368.95 532.7,368.97 533.2,368.99 533.7,369.02 534.2,369.04 534.7,369.06 535.2,369.08 535.7,369.1 536.2,369.13 536.7,369.15 537.2,369.17 537.7,369.19 538.2,369.21 538.7,369.24 539.2,369.26 539.7,369.28 540.2,369.3 540.7,369.32 541.2,369.35 542.9,369.32 543.4,369.3 543.9,369.28 544.4,369.26 544.9,369.24 545.4,369.21 545.9,369.19 546.4,369.17 546.9,369.15 547.4,369.13 547.9,369.1 548.4,369.08 548.9,369.06 549.4,369.04 549.9,369.02 550.4,368.99 550.9,368.97 551.4,368.95 551.9,368.93 552.4,368.91 552.9,368.88 553.4,368.86 553.9,368.82 554.4,368.77 554.9,368.72 555.4,368.67 555.9,368.62 556.4,368.57 556.9,368.52 557.4,368.47 557.9,368.37 558.4,368.23 558.9,368.1 559.4,367.96 559.9,367.83 560.4,367.69 560.9,367.56 561.4,367.07 561.9,366.51 562.4,365.94 562.9,365.6 563.4,365.16 563.9,364.73 564.4,364.32 564.9,363.93 565.4,363.56 565.9,363.21 566.4,362.87 566.9,362.54 567.4,362.09 567.9,361.56 568.4,361.04 568.9,360.54 569.4,360.06 569.9,359.49 570.4,358.94 570.9,358.4 571.4,357.88 571.9,357.38 572.4,356.89 572.9,356.42 573.4,356.1 573.9,356 574.4,356.07 574.9,355.99 575.4,356 575.9,356.24 576.4,356.77 576.9,357.38 577.4,358.56 577.9,359.88 578.4,361.21 578.9,363.83 579.4,366.46 579.9,369.75 580.4,375.75 580.9,381.44 581.4,386.94 581.9,391.57 582.4,394.89 582.9,398.22 583.4,401.41 583.9,404.56 584.4,407.65 584.9,410.48 585.4,413.3 585.9,415.55 586.4,417.41 586.9,419.27 587.4,420.68 587.9,422.09 588.4,423.5 588.9,424.76 589.4,425.43 589.9,426.09 590.4,426.76 590.9,427.42 591.4,428.08 591.9,428.42 592.4,428.76 592.9,429.1 593.4,429.43 593.9,429.77 594.4,430.11 594.9,430.37 595.4,430.58 595.9,430.79 596.4,431 596.9,431.21 597.4,431.42 597.9,431.63 598.4,431.84 598.9,431.96 599.4,432.06 599.9,432.16 600.4,432.26 600.9,432.35 601.4,432.45 601.9,432.55 602.4,432.65 602.9,432.74 603.4,432.84 603.9,432.94 604.4,433.04 604.9,433.13 605.4,433.23 605.9,433.3 606.4,433.36 606.9,433.42 607.4,433.48 607.9,433.54 608.4,433.6 608.9,433.66 609.4,433.72 609.9,433.78 610.4,433.83 610.9,433.89 611.4,433.95 611.9,434.01 612.4,434.07 612.9,434.13 613.4,434.19 613.9,434.25 614.4,434.31 614.9,434.36 615.4,434.42 615.9,434.48 616.4,434.54 616.9,434.61 617.4,434.7 617.9,434.78 618.4,434.86 618.9,434.94 619.4,435.02 619.9,435.1 620.4,435.18 620.9,435.27 621.4,435.35 621.9,435.43 622.4,435.51 622.9,435.59 623.4,435.67 623.9,435.75 624.4,435.84 624.9,435.92 625.4,436 625.9,436.08 626.4,436.16 626.9,436.24 627.4,436.32 627.9,436.37 628.4,436.43 628.9,436.49 629.4,436.54 629.9,436.6 630.4,436.66 630.9,436.71 631.4,436.77 631.9,436.83 632.4,436.88 632.9,436.94 633.4,437 633.9,437.05 634.4,437.11 634.9,437.17 635.4,437.23 635.9,437.28 636.4,437.34 636.9,437.4 637.4,437.45 637.9,437.51 638.4,437.57 638.9,437.61 639.4,437.65 639.9,437.69 640.4,437.73 640.9,437.77 641.4,437.81 641.9,437.85 642.4,437.9 642.9,437.94 643.4,437.98 643.9,438.02 644.4,438.06 644.9,438.1 645.4,438.14 645.9,438.18 646.4,438.22 646.9,438.26 647.4,438.3 647.9,438.34 648.4,438.38 648.9,438.42 649.4,438.46 649.9,438.5 650.4,438.54 650.9,438.58 651.4,438.62 651.9,438.66 652.4,438.7 652.9,438.74 653.4,438.78 653.9,438.82 654.4,438.86 654.9,438.89 655.4,438.93 655.9,438.96 656.4,439 656.9,439.04 657.4,439.07 657.9,439.11 658.4,439.14 658.9,439.18 659.4,439.22 659.9,439.25 660.4,439.29 660.9,439.32 661.4,439.36 661.9,439.4 662.4,439.43 662.9,439.47 663.4,439.5 663.9,439.54 664.4,439.58 664.9,439.61 665.4,439.65 665.9,439.68 666.4,439.72 666.9,439.76 667.4,439.79 667.9,439.83 668.4,439.86 668.9,439.9 669.4,439.94 669.9,439.97 670.4,440.01" fill="none" stroke="#ea5c5c" stroke-width="0.9" stroke-linejoin="round" mask="url(#redmask)"/>
<polyline points="413.2,439.96 413.7,439.93 414.2,439.89 414.7,439.85 415.2,439.82 415.7,439.78 416.2,439.74 416.7,439.71 417.2,439.67 417.7,439.63 418.2,439.6 418.7,439.56 419.2,439.52 419.7,439.49 420.2,439.45 420.7,439.41 421.2,439.38 421.7,439.34 422.2,439.3 422.7,439.27 423.2,439.23 423.7,439.19 424.2,439.16 424.7,439.12 425.2,439.08 425.7,439.05 426.2,439.01 426.7,438.97 427.2,438.94 427.7,438.9 428.2,438.86 428.7,438.83 429.2,438.79 429.7,438.75 430.2,438.72 430.7,438.67 431.2,438.63 431.7,438.59 432.2,438.55 432.7,438.51 433.2,438.47 433.7,438.43 434.2,438.39 434.7,438.35 435.2,438.31 435.7,438.26 436.2,438.22 436.7,438.18 437.2,438.14 437.7,438.1 438.2,438.06 438.7,438.02 439.2,437.98 439.7,437.94 440.2,437.9 440.7,437.85 441.2,437.81 441.7,437.77 442.2,437.73 442.7,437.69 443.2,437.65 443.7,437.61 444.2,437.57 444.7,437.53 445.2,437.48 445.7,437.42 446.2,437.36 446.7,437.31 447.2,437.25 447.7,437.19 448.2,437.13 448.7,437.07 449.2,437.02 449.7,436.96 450.2,436.9 450.7,436.84 451.2,436.78 451.7,436.73 452.2,436.67 452.7,436.61 453.2,436.55 453.7,436.5 454.2,436.44 454.7,436.38 455.2,436.32 455.7,436.26 456.2,436.21 456.7,436.13 457.2,436.05 457.7,435.97 458.2,435.88 458.7,435.8 459.2,435.72 459.7,435.64 460.2,435.55 460.7,435.47 461.2,435.39 461.7,435.3 462.2,435.22 462.7,435.14 463.2,435.06 463.7,434.97 464.2,434.89 464.7,434.81 465.2,434.72 465.7,434.64 466.2,434.56 466.7,434.48 467.2,434.4 467.7,434.34 468.2,434.28 468.7,434.22 469.2,434.16 469.7,434.1 470.2,434.04 470.7,433.98 471.2,433.92 471.7,433.86 472.2,433.8 472.7,433.74 473.2,433.68 473.7,433.62 474.2,433.56 474.7,433.5 475.2,433.44 475.7,433.38 476.2,433.32 476.7,433.26 477.2,433.2 477.7,433.14 478.2,433.07 478.7,432.97 479.2,432.87 479.7,432.77 480.2,432.67 480.7,432.57 481.2,432.47 481.7,432.37 482.2,432.27 482.7,432.18 483.2,432.08 483.7,431.98 484.2,431.88 484.7,431.78 485.2,431.66 485.7,431.44 486.2,431.23 486.7,431.02 487.2,430.8 487.7,430.59 488.2,430.37 488.7,430.16 489.2,429.89 489.7,429.55 490.2,429.21 490.7,428.86 491.2,428.52 491.7,428.18 492.2,427.83 492.7,427.16 493.2,426.48 493.7,425.8 494.2,425.13 494.7,424.45 495.2,423.17 495.7,421.74 496.2,420.3 496.7,418.87 497.2,416.97 497.7,415.08 498.2,412.8 498.7,409.92 499.2,407.05 499.7,403.9 500.2,400.69 500.7,397.45 501.2,394.07 501.7,390.68 502.2,385.98 502.7,380.38 503.2,374.59 503.7,368.49 504.2,365.13 504.7,362.47 505.2,359.8 505.7,358.45 506.2,357.1 506.7,355.9 507.2,355.28 507.7,354.74 508.2,354.49 508.7,354.49 509.2,354.62 509.7,354.68 510.2,354.91 510.7,355.36 511.2,355.96 511.7,356.58 512.2,357.2 512.7,357.84 513.2,358.5 513.7,359.16 514.2,359.84 514.7,360.44 515.2,361.04 515.7,361.66 516.2,362.29 516.7,362.84 517.2,363.26 517.7,363.7 518.2,364.14 518.7,364.6 519.2,365.08 519.7,365.58 520.2,366.08 520.7,366.6 521.2,366.99 521.7,367.55 522.2,368.11 522.7,368.59 523.2,368.72 523.7,368.85 524.2,368.98 524.7,369.12 525.2,369.25 525.7,369.38 526.2,369.48 526.7,369.53 527.2,369.58 527.7,369.63 528.2,369.69 528.7,369.74 529.2,369.79 529.7,369.84 530.2,369.87 530.7,369.9 531.2,369.92 531.7,369.94 532.2,369.96 532.7,369.98 533.2,370 533.7,370.03 534.2,370.05 534.7,370.07 535.2,370.09 535.7,370.11 536.2,370.14 536.7,370.16 537.2,370.18 537.7,370.2 538.2,370.22 538.7,370.24 539.2,370.27 539.7,370.29 540.2,370.31 540.7,370.33 541.2,370.35 542.9,370.33 543.4,370.31 543.9,370.29 544.4,370.27 544.9,370.24 545.4,370.22 545.9,370.2 546.4,370.18 546.9,370.16 547.4,370.14 547.9,370.11 548.4,370.09 548.9,370.07 549.4,370.05 549.9,370.03 550.4,370 550.9,369.98 551.4,369.96 551.9,369.94 552.4,369.92 552.9,369.9 553.4,369.87 553.9,369.84 554.4,369.79 554.9,369.74 555.4,369.69 555.9,369.63 556.4,369.58 556.9,369.53 557.4,369.48 557.9,369.38 558.4,369.25 558.9,369.12 559.4,368.98 559.9,368.85 560.4,368.72 560.9,368.59 561.4,368.11 561.9,367.55 562.4,366.99 562.9,366.6 563.4,366.08 563.9,365.58 564.4,365.08 564.9,364.6 565.4,364.14 565.9,363.7 566.4,363.26 566.9,362.84 567.4,362.29 567.9,361.66 568.4,361.04 568.9,360.44 569.4,359.84 569.9,359.16 570.4,358.5 570.9,357.84 571.4,357.2 571.9,356.58 572.4,355.96 572.9,355.36 573.4,354.91 573.9,354.68 574.4,354.62 574.9,354.49 575.4,354.49 575.9,354.74 576.4,355.28 576.9,355.9 577.4,357.1 577.9,358.45 578.4,359.8 578.9,362.47 579.4,365.13 579.9,368.49 580.4,374.59 580.9,380.38 581.4,385.98 581.9,390.68 582.4,394.07 582.9,397.45 583.4,400.69 583.9,403.9 584.4,407.05 584.9,409.92 585.4,412.8 585.9,415.08 586.4,416.97 586.9,418.87 587.4,420.3 587.9,421.74 588.4,423.17 588.9,424.45 589.4,425.13 589.9,425.8 590.4,426.48 590.9,427.16 591.4,427.83 591.9,428.18 592.4,428.52 592.9,428.86 593.4,429.21 593.9,429.55 594.4,429.89 594.9,430.16 595.4,430.37 595.9,430.59 596.4,430.8 596.9,431.02 597.4,431.23 597.9,431.44 598.4,431.66 598.9,431.78 599.4,431.88 599.9,431.98 600.4,432.08 600.9,432.18 601.4,432.27 601.9,432.37 602.4,432.47 602.9,432.57 603.4,432.67 603.9,432.77 604.4,432.87 604.9,432.97 605.4,433.07 605.9,433.14 606.4,433.2 606.9,433.26 607.4,433.32 607.9,433.38 608.4,433.44 608.9,433.5 609.4,433.56 609.9,433.62 610.4,433.68 610.9,433.74 611.4,433.8 611.9,433.86 612.4,433.92 612.9,433.98 613.4,434.04 613.9,434.1 614.4,434.16 614.9,434.22 615.4,434.28 615.9,434.34 616.4,434.4 616.9,434.48 617.4,434.56 617.9,434.64 618.4,434.72 618.9,434.81 619.4,434.89 619.9,434.97 620.4,435.06 620.9,435.14 621.4,435.22 621.9,435.3 622.4,435.39 622.9,435.47 623.4,435.55 623.9,435.64 624.4,435.72 624.9,435.8 625.4,435.88 625.9,435.97 626.4,436.05 626.9,436.13 627.4,436.21 627.9,436.26 628.4,436.32 628.9,436.38 629.4,436.44 629.9,436.5 630.4,436.55 630.9,436.61 631.4,436.67 631.9,436.73 632.4,436.78 632.9,436.84 633.4,436.9 633.9,436.96 634.4,437.02 634.9,437.07 635.4,437.13 635.9,437.19 636.4,437.25 636.9,437.31 637.4,437.36 637.9,437.42 638.4,437.48 638.9,437.53 639.4,437.57 639.9,437.61 640.4,437.65 640.9,437.69 641.4,437.73 641.9,437.77 642.4,437.81 642.9,437.85 643.4,437.9 643.9,437.94 644.4,437.98 644.9,438.02 645.4,438.06 645.9,438.1 646.4,438.14 646.9,438.18 647.4,438.22 647.9,438.26 648.4,438.31 648.9,438.35 649.4,438.39 649.9,438.43 650.4,438.47 650.9,438.51 651.4,438.55 651.9,438.59 652.4,438.63 652.9,438.67 653.4,438.72 653.9,438.75 654.4,438.79 654.9,438.83 655.4,438.86 655.9,438.9 656.4,438.94 656.9,438.97 657.4,439.01 657.9,439.05 658.4,439.08 658.9,439.12 659.4,439.16 659.9,439.19 660.4,439.23 660.9,439.27 661.4,439.3 661.9,439.34 662.4,439.38 662.9,439.41 663.4,439.45 663.9,439.49 664.4,439.52 664.9,439.56 665.4,439.6 665.9,439.63 666.4,439.67 666.9,439.71 667.4,439.74 667.9,439.78 668.4,439.82 668.9,439.85 669.4,439.89 669.9,439.93 670.4,439.96" fill="none" stroke="#dde8f4" stroke-width="0.9" stroke-linejoin="round" mask="url(#redmask)"/>
<polyline points="413.2,439.9 413.7,439.86 414.2,439.83 414.7,439.79 415.2,439.75 415.7,439.71 416.2,439.68 416.7,439.64 417.2,439.6 417.7,439.56 418.2,439.52 418.7,439.49 419.2,439.45 419.7,439.41 420.2,439.38 420.7,439.34 421.2,439.3 421.7,439.26 422.2,439.23 422.7,439.19 423.2,439.15 423.7,439.11 424.2,439.07 424.7,439.04 425.2,439 425.7,438.96 426.2,438.93 426.7,438.89 427.2,438.85 427.7,438.81 428.2,438.77 428.7,438.74 429.2,438.7 429.7,438.66 430.2,438.62 430.7,438.58 431.2,438.54 431.7,438.5 432.2,438.46 432.7,438.41 433.2,438.37 433.7,438.33 434.2,438.29 434.7,438.25 435.2,438.2 435.7,438.16 436.2,438.12 436.7,438.08 437.2,438.04 437.7,437.99 438.2,437.95 438.7,437.91 439.2,437.87 439.7,437.83 440.2,437.78 440.7,437.74 441.2,437.7 441.7,437.66 442.2,437.62 442.7,437.57 443.2,437.53 443.7,437.49 444.2,437.45 444.7,437.41 445.2,437.36 445.7,437.3 446.2,437.24 446.7,437.18 447.2,437.12 447.7,437.06 448.2,437 448.7,436.94 449.2,436.88 449.7,436.82 450.2,436.76 450.7,436.71 451.2,436.65 451.7,436.59 452.2,436.53 452.7,436.47 453.2,436.41 453.7,436.35 454.2,436.29 454.7,436.23 455.2,436.17 455.7,436.11 456.2,436.05 456.7,435.98 457.2,435.89 457.7,435.81 458.2,435.72 458.7,435.64 459.2,435.55 459.7,435.47 460.2,435.38 460.7,435.3 461.2,435.21 461.7,435.13 462.2,435.05 462.7,434.96 463.2,434.88 463.7,434.79 464.2,434.71 464.7,434.62 465.2,434.54 465.7,434.45 466.2,434.37 466.7,434.28 467.2,434.21 467.7,434.14 468.2,434.08 468.7,434.02 469.2,433.96 469.7,433.9 470.2,433.84 470.7,433.78 471.2,433.71 471.7,433.65 472.2,433.59 472.7,433.53 473.2,433.47 473.7,433.41 474.2,433.35 474.7,433.29 475.2,433.22 475.7,433.16 476.2,433.1 476.7,433.04 477.2,432.98 477.7,432.92 478.2,432.84 478.7,432.74 479.2,432.64 479.7,432.54 480.2,432.43 480.7,432.33 481.2,432.23 481.7,432.13 482.2,432.03 482.7,431.93 483.2,431.83 483.7,431.72 484.2,431.62 484.7,431.52 485.2,431.4 485.7,431.18 486.2,430.96 486.7,430.74 487.2,430.52 487.7,430.3 488.2,430.08 488.7,429.86 489.2,429.59 489.7,429.24 490.2,428.89 490.7,428.53 491.2,428.18 491.7,427.83 492.2,427.48 492.7,426.79 493.2,426.1 493.7,425.4 494.2,424.71 494.7,424.02 495.2,422.71 495.7,421.24 496.2,419.77 496.7,418.3 497.2,416.36 497.7,414.42 498.2,412.08 498.7,409.14 499.2,406.2 499.7,402.98 500.2,399.69 500.7,396.37 501.2,392.91 501.7,389.44 502.2,384.62 502.7,378.9 503.2,372.96 503.7,366.72 504.2,363.28 504.7,360.55 505.2,357.82 505.7,356.44 506.2,355.06 506.7,353.82 507.2,353.19 507.7,352.64 508.2,352.39 508.7,352.38 509.2,352.58 509.7,352.81 510.2,353.21 510.7,353.83 511.2,354.6 511.7,355.37 512.2,356.16 512.7,356.96 513.2,357.76 513.7,358.58 514.2,359.4 514.7,360.14 515.2,360.88 515.7,361.63 516.2,362.39 516.7,363.07 517.2,363.62 517.7,364.17 518.2,364.74 518.7,365.31 519.2,365.9 519.7,366.51 520.2,367.12 520.7,367.74 521.2,368.2 521.7,368.75 522.2,369.3 522.7,369.76 523.2,369.89 523.7,370.02 524.2,370.16 524.7,370.29 525.2,370.42 525.7,370.55 526.2,370.65 526.7,370.7 527.2,370.75 527.7,370.8 528.2,370.84 528.7,370.89 529.2,370.94 529.7,370.99 530.2,371.03 530.7,371.05 531.2,371.07 531.7,371.1 532.2,371.12 532.7,371.14 533.2,371.16 533.7,371.18 534.2,371.2 534.7,371.22 535.2,371.24 535.7,371.27 536.2,371.29 536.7,371.31 537.2,371.33 537.7,371.35 538.2,371.37 538.7,371.39 539.2,371.42 539.7,371.44 540.2,371.46 540.7,371.48 541.2,371.5 542.9,371.48 543.4,371.46 543.9,371.44 544.4,371.42 544.9,371.39 545.4,371.37 545.9,371.35 546.4,371.33 546.9,371.31 547.4,371.29 547.9,371.27 548.4,371.24 548.9,371.22 549.4,371.2 549.9,371.18 550.4,371.16 550.9,371.14 551.4,371.12 551.9,371.1 552.4,371.07 552.9,371.05 553.4,371.03 553.9,370.99 554.4,370.94 554.9,370.89 555.4,370.84 555.9,370.8 556.4,370.75 556.9,370.7 557.4,370.65 557.9,370.55 558.4,370.42 558.9,370.29 559.4,370.16 559.9,370.02 560.4,369.89 560.9,369.76 561.4,369.3 561.9,368.75 562.4,368.2 562.9,367.74 563.4,367.12 563.9,366.51 564.4,365.9 564.9,365.31 565.4,364.74 565.9,364.17 566.4,363.62 566.9,363.07 567.4,362.39 567.9,361.63 568.4,360.88 568.9,360.14 569.4,359.4 569.9,358.58 570.4,357.76 570.9,356.96 571.4,356.16 571.9,355.37 572.4,354.6 572.9,353.83 573.4,353.21 573.9,352.81 574.4,352.58 574.9,352.38 575.4,352.39 575.9,352.64 576.4,353.19 576.9,353.82 577.4,355.06 577.9,356.44 578.4,357.82 578.9,360.55 579.4,363.28 579.9,366.72 580.4,372.96 580.9,378.9 581.4,384.62 581.9,389.44 582.4,392.91 582.9,396.37 583.4,399.69 583.9,402.98 584.4,406.2 584.9,409.14 585.4,412.08 585.9,414.42 586.4,416.36 586.9,418.3 587.4,419.77 587.9,421.24 588.4,422.71 588.9,424.02 589.4,424.71 589.9,425.4 590.4,426.1 590.9,426.79 591.4,427.48 591.9,427.83 592.4,428.18 592.9,428.53 593.4,428.89 593.9,429.24 594.4,429.59 594.9,429.86 595.4,430.08 595.9,430.3 596.4,430.52 596.9,430.74 597.4,430.96 597.9,431.18 598.4,431.4 598.9,431.52 599.4,431.62 599.9,431.72 600.4,431.83 600.9,431.93 601.4,432.03 601.9,432.13 602.4,432.23 602.9,432.33 603.4,432.43 603.9,432.54 604.4,432.64 604.9,432.74 605.4,432.84 605.9,432.92 606.4,432.98 606.9,433.04 607.4,433.1 607.9,433.16 608.4,433.22 608.9,433.29 609.4,433.35 609.9,433.41 610.4,433.47 610.9,433.53 611.4,433.59 611.9,433.65 612.4,433.71 612.9,433.78 613.4,433.84 613.9,433.9 614.4,433.96 614.9,434.02 615.4,434.08 615.9,434.14 616.4,434.21 616.9,434.28 617.4,434.37 617.9,434.45 618.4,434.54 618.9,434.62 619.4,434.71 619.9,434.79 620.4,434.88 620.9,434.96 621.4,435.05 621.9,435.13 622.4,435.21 622.9,435.3 623.4,435.38 623.9,435.47 624.4,435.55 624.9,435.64 625.4,435.72 625.9,435.81 626.4,435.89 626.9,435.98 627.4,436.05 627.9,436.11 628.4,436.17 628.9,436.23 629.4,436.29 629.9,436.35 630.4,436.41 630.9,436.47 631.4,436.53 631.9,436.59 632.4,436.65 632.9,436.71 633.4,436.76 633.9,436.82 634.4,436.88 634.9,436.94 635.4,437 635.9,437.06 636.4,437.12 636.9,437.18 637.4,437.24 637.9,437.3 638.4,437.36 638.9,437.41 639.4,437.45 639.9,437.49 640.4,437.53 640.9,437.57 641.4,437.62 641.9,437.66 642.4,437.7 642.9,437.74 643.4,437.78 643.9,437.83 644.4,437.87 644.9,437.91 645.4,437.95 645.9,437.99 646.4,438.04 646.9,438.08 647.4,438.12 647.9,438.16 648.4,438.2 648.9,438.25 649.4,438.29 649.9,438.33 650.4,438.37 650.9,438.41 651.4,438.46 651.9,438.5 652.4,438.54 652.9,438.58 653.4,438.62 653.9,438.66 654.4,438.7 654.9,438.74 655.4,438.77 655.9,438.81 656.4,438.85 656.9,438.89 657.4,438.93 657.9,438.96 658.4,439 658.9,439.04 659.4,439.07 659.9,439.11 660.4,439.15 660.9,439.19 661.4,439.23 661.9,439.26 662.4,439.3 662.9,439.34 663.4,439.38 663.9,439.41 664.4,439.45 664.9,439.49 665.4,439.52 665.9,439.56 666.4,439.6 666.9,439.64 667.4,439.68 667.9,439.71 668.4,439.75 668.9,439.79 669.4,439.83 669.9,439.86 670.4,439.9" fill="none" stroke="#e8262b" stroke-width="1.6" stroke-linejoin="round" mask="url(#redmask)"/>
<polyline points="413.2,439.85 413.7,439.81 414.2,439.77 414.7,439.73 415.2,439.69 415.7,439.65 416.2,439.62 416.7,439.58 417.2,439.54 417.7,439.5 418.2,439.46 418.7,439.43 419.2,439.39 419.7,439.35 420.2,439.31 420.7,439.27 421.2,439.23 421.7,439.2 422.2,439.16 422.7,439.12 423.2,439.08 423.7,439.04 424.2,439 424.7,438.97 425.2,438.93 425.7,438.89 426.2,438.85 426.7,438.81 427.2,438.77 427.7,438.74 428.2,438.7 428.7,438.66 429.2,438.62 429.7,438.58 430.2,438.54 430.7,438.5 431.2,438.46 431.7,438.42 432.2,438.37 432.7,438.33 433.2,438.29 433.7,438.24 434.2,438.2 434.7,438.16 435.2,438.12 435.7,438.07 436.2,438.03 436.7,437.99 437.2,437.94 437.7,437.9 438.2,437.86 438.7,437.82 439.2,437.77 439.7,437.73 440.2,437.69 440.7,437.64 441.2,437.6 441.7,437.56 442.2,437.52 442.7,437.47 443.2,437.43 443.7,437.39 444.2,437.34 444.7,437.3 445.2,437.25 445.7,437.19 446.2,437.13 446.7,437.07 447.2,437.01 447.7,436.95 448.2,436.89 448.7,436.83 449.2,436.77 449.7,436.71 450.2,436.65 450.7,436.59 451.2,436.53 451.7,436.47 452.2,436.41 452.7,436.35 453.2,436.29 453.7,436.22 454.2,436.16 454.7,436.1 455.2,436.04 455.7,435.98 456.2,435.92 456.7,435.85 457.2,435.76 457.7,435.67 458.2,435.59 458.7,435.5 459.2,435.41 459.7,435.33 460.2,435.24 460.7,435.15 461.2,435.07 461.7,434.98 462.2,434.89 462.7,434.81 463.2,434.72 463.7,434.63 464.2,434.55 464.7,434.46 465.2,434.37 465.7,434.29 466.2,434.2 466.7,434.11 467.2,434.04 467.7,433.97 468.2,433.91 468.7,433.85 469.2,433.79 469.7,433.72 470.2,433.66 470.7,433.6 471.2,433.54 471.7,433.47 472.2,433.41 472.7,433.35 473.2,433.29 473.7,433.22 474.2,433.16 474.7,433.1 475.2,433.04 475.7,432.97 476.2,432.91 476.7,432.85 477.2,432.79 477.7,432.72 478.2,432.64 478.7,432.54 479.2,432.44 479.7,432.33 480.2,432.23 480.7,432.13 481.2,432.02 481.7,431.92 482.2,431.82 482.7,431.71 483.2,431.61 483.7,431.51 484.2,431.4 484.7,431.3 485.2,431.17 485.7,430.95 486.2,430.72 486.7,430.5 487.2,430.28 487.7,430.05 488.2,429.83 488.7,429.61 489.2,429.33 489.7,428.97 490.2,428.61 490.7,428.25 491.2,427.89 491.7,427.54 492.2,427.18 492.7,426.47 493.2,425.77 493.7,425.06 494.2,424.35 494.7,423.65 495.2,422.31 495.7,420.81 496.2,419.31 496.7,417.81 497.2,415.84 497.7,413.86 498.2,411.47 498.7,408.47 499.2,405.47 499.7,402.19 500.2,398.83 500.7,395.44 501.2,391.91 501.7,388.38 502.2,383.46 502.7,377.62 503.2,371.57 503.7,365.2 504.2,361.7 504.7,358.91 505.2,356.12 505.7,354.71 506.2,353.3 506.7,352.05 507.2,351.41 507.7,350.84 508.2,350.59 508.7,350.58 509.2,350.84 509.7,351.23 510.2,351.79 510.7,352.57 511.2,353.5 511.7,354.44 512.2,355.38 512.7,356.32 513.2,357.27 513.7,358.23 514.2,359.19 514.7,360.06 515.2,360.93 515.7,361.81 516.2,362.69 516.7,363.49 517.2,364.16 517.7,364.83 518.2,365.51 518.7,366.19 519.2,366.89 519.7,367.6 520.2,368.32 520.7,369.04 521.2,369.55 521.7,370.09 522.2,370.63 522.7,371.09 523.2,371.22 523.7,371.34 524.2,371.47 524.7,371.6 525.2,371.73 525.7,371.86 526.2,371.96 526.7,372 527.2,372.05 527.7,372.1 528.2,372.15 528.7,372.2 529.2,372.25 529.7,372.3 530.2,372.33 530.7,372.35 531.2,372.37 531.7,372.4 532.2,372.42 532.7,372.44 533.2,372.46 533.7,372.48 534.2,372.5 534.7,372.52 535.2,372.54 535.7,372.56 536.2,372.58 536.7,372.61 537.2,372.63 537.7,372.65 538.2,372.67 538.7,372.69 539.2,372.71 539.7,372.73 540.2,372.75 540.7,372.77 541.2,372.79 542.9,372.77 543.4,372.75 543.9,372.73 544.4,372.71 544.9,372.69 545.4,372.67 545.9,372.65 546.4,372.63 546.9,372.61 547.4,372.58 547.9,372.56 548.4,372.54 548.9,372.52 549.4,372.5 549.9,372.48 550.4,372.46 550.9,372.44 551.4,372.42 551.9,372.4 552.4,372.37 552.9,372.35 553.4,372.33 553.9,372.3 554.4,372.25 554.9,372.2 555.4,372.15 555.9,372.1 556.4,372.05 556.9,372 557.4,371.96 557.9,371.86 558.4,371.73 558.9,371.6 559.4,371.47 559.9,371.34 560.4,371.22 560.9,371.09 561.4,370.63 561.9,370.09 562.4,369.55 562.9,369.04 563.4,368.32 563.9,367.6 564.4,366.89 564.9,366.19 565.4,365.51 565.9,364.83 566.4,364.16 566.9,363.49 567.4,362.69 567.9,361.81 568.4,360.93 568.9,360.06 569.4,359.19 569.9,358.23 570.4,357.27 570.9,356.32 571.4,355.38 571.9,354.44 572.4,353.5 572.9,352.57 573.4,351.79 573.9,351.23 574.4,350.84 574.9,350.58 575.4,350.59 575.9,350.84 576.4,351.41 576.9,352.05 577.4,353.3 577.9,354.71 578.4,356.12 578.9,358.91 579.4,361.7 579.9,365.2 580.4,371.57 580.9,377.62 581.4,383.46 581.9,388.38 582.4,391.91 582.9,395.44 583.4,398.83 583.9,402.19 584.4,405.47 584.9,408.47 585.4,411.47 585.9,413.86 586.4,415.84 586.9,417.81 587.4,419.31 587.9,420.81 588.4,422.31 588.9,423.65 589.4,424.35 589.9,425.06 590.4,425.77 590.9,426.47 591.4,427.18 591.9,427.54 592.4,427.89 592.9,428.25 593.4,428.61 593.9,428.97 594.4,429.33 594.9,429.61 595.4,429.83 595.9,430.05 596.4,430.28 596.9,430.5 597.4,430.72 597.9,430.95 598.4,431.17 598.9,431.3 599.4,431.4 599.9,431.51 600.4,431.61 600.9,431.71 601.4,431.82 601.9,431.92 602.4,432.02 602.9,432.13 603.4,432.23 603.9,432.33 604.4,432.44 604.9,432.54 605.4,432.64 605.9,432.72 606.4,432.79 606.9,432.85 607.4,432.91 607.9,432.97 608.4,433.04 608.9,433.1 609.4,433.16 609.9,433.22 610.4,433.29 610.9,433.35 611.4,433.41 611.9,433.47 612.4,433.54 612.9,433.6 613.4,433.66 613.9,433.72 614.4,433.79 614.9,433.85 615.4,433.91 615.9,433.97 616.4,434.04 616.9,434.11 617.4,434.2 617.9,434.29 618.4,434.37 618.9,434.46 619.4,434.55 619.9,434.63 620.4,434.72 620.9,434.81 621.4,434.89 621.9,434.98 622.4,435.07 622.9,435.15 623.4,435.24 623.9,435.33 624.4,435.41 624.9,435.5 625.4,435.59 625.9,435.67 626.4,435.76 626.9,435.85 627.4,435.92 627.9,435.98 628.4,436.04 628.9,436.1 629.4,436.16 629.9,436.22 630.4,436.29 630.9,436.35 631.4,436.41 631.9,436.47 632.4,436.53 632.9,436.59 633.4,436.65 633.9,436.71 634.4,436.77 634.9,436.83 635.4,436.89 635.9,436.95 636.4,437.01 636.9,437.07 637.4,437.13 637.9,437.19 638.4,437.25 638.9,437.3 639.4,437.34 639.9,437.39 640.4,437.43 640.9,437.47 641.4,437.52 641.9,437.56 642.4,437.6 642.9,437.64 643.4,437.69 643.9,437.73 644.4,437.77 644.9,437.82 645.4,437.86 645.9,437.9 646.4,437.94 646.9,437.99 647.4,438.03 647.9,438.07 648.4,438.12 648.9,438.16 649.4,438.2 649.9,438.24 650.4,438.29 650.9,438.33 651.4,438.37 651.9,438.42 652.4,438.46 652.9,438.5 653.4,438.54 653.9,438.58 654.4,438.62 654.9,438.66 655.4,438.7 655.9,438.74 656.4,438.77 656.9,438.81 657.4,438.85 657.9,438.89 658.4,438.93 658.9,438.97 659.4,439 659.9,439.04 660.4,439.08 660.9,439.12 661.4,439.16 661.9,439.2 662.4,439.23 662.9,439.27 663.4,439.31 663.9,439.35 664.4,439.39 664.9,439.43 665.4,439.46 665.9,439.5 666.4,439.54 666.9,439.58 667.4,439.62 667.9,439.65 668.4,439.69 668.9,439.73 669.4,439.77 669.9,439.81 670.4,439.85" fill="none" stroke="#e41e25" stroke-width="1.8" stroke-linejoin="round" mask="url(#redmask)"/>
<polyline points="413.2,439.8 413.7,439.76 414.2,439.72 414.7,439.68 415.2,439.64 415.7,439.6 416.2,439.56 416.7,439.52 417.2,439.48 417.7,439.44 418.2,439.41 418.7,439.37 419.2,439.33 419.7,439.29 420.2,439.25 420.7,439.21 421.2,439.17 421.7,439.13 422.2,439.09 422.7,439.05 423.2,439.02 423.7,438.98 424.2,438.94 424.7,438.9 425.2,438.86 425.7,438.82 426.2,438.78 426.7,438.74 427.2,438.7 427.7,438.67 428.2,438.63 428.7,438.59 429.2,438.55 429.7,438.51 430.2,438.47 430.7,438.42 431.2,438.38 431.7,438.34 432.2,438.29 432.7,438.25 433.2,438.21 433.7,438.16 434.2,438.12 434.7,438.08 435.2,438.03 435.7,437.99 436.2,437.94 436.7,437.9 437.2,437.86 437.7,437.81 438.2,437.77 438.7,437.73 439.2,437.68 439.7,437.64 440.2,437.6 440.7,437.55 441.2,437.51 441.7,437.46 442.2,437.42 442.7,437.38 443.2,437.33 443.7,437.29 444.2,437.25 444.7,437.2 445.2,437.15 445.7,437.09 446.2,437.03 446.7,436.97 447.2,436.91 447.7,436.84 448.2,436.78 448.7,436.72 449.2,436.66 449.7,436.6 450.2,436.54 450.7,436.48 451.2,436.41 451.7,436.35 452.2,436.29 452.7,436.23 453.2,436.17 453.7,436.11 454.2,436.05 454.7,435.98 455.2,435.92 455.7,435.86 456.2,435.8 456.7,435.72 457.2,435.63 457.7,435.55 458.2,435.46 458.7,435.37 459.2,435.28 459.7,435.19 460.2,435.1 460.7,435.02 461.2,434.93 461.7,434.84 462.2,434.75 462.7,434.66 463.2,434.57 463.7,434.49 464.2,434.4 464.7,434.31 465.2,434.22 465.7,434.13 466.2,434.05 466.7,433.96 467.2,433.88 467.7,433.82 468.2,433.75 468.7,433.69 469.2,433.62 469.7,433.56 470.2,433.5 470.7,433.43 471.2,433.37 471.7,433.31 472.2,433.24 472.7,433.18 473.2,433.11 473.7,433.05 474.2,432.99 474.7,432.92 475.2,432.86 475.7,432.8 476.2,432.73 476.7,432.67 477.2,432.6 477.7,432.54 478.2,432.46 478.7,432.35 479.2,432.25 479.7,432.14 480.2,432.04 480.7,431.93 481.2,431.83 481.7,431.72 482.2,431.62 482.7,431.51 483.2,431.41 483.7,431.3 484.2,431.2 484.7,431.09 485.2,430.96 485.7,430.73 486.2,430.5 486.7,430.28 487.2,430.05 487.7,429.82 488.2,429.59 488.7,429.37 489.2,429.08 489.7,428.72 490.2,428.35 490.7,427.99 491.2,427.62 491.7,427.26 492.2,426.89 492.7,426.17 493.2,425.45 493.7,424.73 494.2,424.02 494.7,423.3 495.2,421.93 495.7,420.41 496.2,418.88 496.7,417.36 497.2,415.34 497.7,413.33 498.2,410.9 498.7,407.84 499.2,404.78 499.7,401.44 500.2,398.02 500.7,394.57 501.2,390.97 501.7,387.38 502.2,382.37 502.7,376.42 503.2,370.25 503.7,363.77 504.2,360.2 504.7,357.36 505.2,354.52 505.7,353.09 506.2,351.65 506.7,350.37 507.2,349.72 507.7,349.14 508.2,348.88 508.7,348.87 509.2,349.2 509.7,349.72 510.2,350.43 510.7,351.35 511.2,352.42 511.7,353.49 512.2,354.56 512.7,355.64 513.2,356.71 513.7,357.79 514.2,358.88 514.7,359.86 515.2,360.85 515.7,361.84 516.2,362.83 516.7,363.73 517.2,364.5 517.7,365.28 518.2,366.05 518.7,366.83 519.2,367.62 519.7,368.43 520.2,369.23 520.7,370.04 521.2,370.6 521.7,371.13 522.2,371.67 522.7,372.12 523.2,372.24 523.7,372.37 524.2,372.5 524.7,372.62 525.2,372.75 525.7,372.88 526.2,372.97 526.7,373.02 527.2,373.07 527.7,373.12 528.2,373.16 528.7,373.21 529.2,373.26 529.7,373.31 530.2,373.34 530.7,373.37 531.2,373.39 531.7,373.41 532.2,373.43 532.7,373.45 533.2,373.47 533.7,373.49 534.2,373.51 534.7,373.53 535.2,373.55 535.7,373.57 536.2,373.59 536.7,373.61 537.2,373.63 537.7,373.65 538.2,373.68 538.7,373.7 539.2,373.72 539.7,373.74 540.2,373.76 540.7,373.78 541.2,373.8 542.9,373.78 543.4,373.76 543.9,373.74 544.4,373.72 544.9,373.7 545.4,373.68 545.9,373.65 546.4,373.63 546.9,373.61 547.4,373.59 547.9,373.57 548.4,373.55 548.9,373.53 549.4,373.51 549.9,373.49 550.4,373.47 550.9,373.45 551.4,373.43 551.9,373.41 552.4,373.39 552.9,373.37 553.4,373.34 553.9,373.31 554.4,373.26 554.9,373.21 555.4,373.16 555.9,373.12 556.4,373.07 556.9,373.02 557.4,372.97 557.9,372.88 558.4,372.75 558.9,372.62 559.4,372.5 559.9,372.37 560.4,372.24 560.9,372.12 561.4,371.67 561.9,371.13 562.4,370.6 562.9,370.04 563.4,369.23 563.9,368.43 564.4,367.62 564.9,366.83 565.4,366.05 565.9,365.28 566.4,364.5 566.9,363.73 567.4,362.83 567.9,361.84 568.4,360.85 568.9,359.86 569.4,358.88 569.9,357.79 570.4,356.71 570.9,355.64 571.4,354.56 571.9,353.49 572.4,352.42 572.9,351.35 573.4,350.43 573.9,349.72 574.4,349.2 574.9,348.87 575.4,348.88 575.9,349.14 576.4,349.72 576.9,350.37 577.4,351.65 577.9,353.09 578.4,354.52 578.9,357.36 579.4,360.2 579.9,363.77 580.4,370.25 580.9,376.42 581.4,382.37 581.9,387.38 582.4,390.97 582.9,394.57 583.4,398.02 583.9,401.44 584.4,404.78 584.9,407.84 585.4,410.9 585.9,413.33 586.4,415.34 586.9,417.36 587.4,418.88 587.9,420.41 588.4,421.93 588.9,423.3 589.4,424.02 589.9,424.73 590.4,425.45 590.9,426.17 591.4,426.89 591.9,427.26 592.4,427.62 592.9,427.99 593.4,428.35 593.9,428.72 594.4,429.08 594.9,429.37 595.4,429.59 595.9,429.82 596.4,430.05 596.9,430.28 597.4,430.5 597.9,430.73 598.4,430.96 598.9,431.09 599.4,431.2 599.9,431.3 600.4,431.41 600.9,431.51 601.4,431.62 601.9,431.72 602.4,431.83 602.9,431.93 603.4,432.04 603.9,432.14 604.4,432.25 604.9,432.35 605.4,432.46 605.9,432.54 606.4,432.6 606.9,432.67 607.4,432.73 607.9,432.8 608.4,432.86 608.9,432.92 609.4,432.99 609.9,433.05 610.4,433.11 610.9,433.18 611.4,433.24 611.9,433.31 612.4,433.37 612.9,433.43 613.4,433.5 613.9,433.56 614.4,433.62 614.9,433.69 615.4,433.75 615.9,433.82 616.4,433.88 616.9,433.96 617.4,434.05 617.9,434.13 618.4,434.22 618.9,434.31 619.4,434.4 619.9,434.49 620.4,434.57 620.9,434.66 621.4,434.75 621.9,434.84 622.4,434.93 622.9,435.02 623.4,435.1 623.9,435.19 624.4,435.28 624.9,435.37 625.4,435.46 625.9,435.55 626.4,435.63 626.9,435.72 627.4,435.8 627.9,435.86 628.4,435.92 628.9,435.98 629.4,436.05 629.9,436.11 630.4,436.17 630.9,436.23 631.4,436.29 631.9,436.35 632.4,436.41 632.9,436.48 633.4,436.54 633.9,436.6 634.4,436.66 634.9,436.72 635.4,436.78 635.9,436.84 636.4,436.91 636.9,436.97 637.4,437.03 637.9,437.09 638.4,437.15 638.9,437.2 639.4,437.25 639.9,437.29 640.4,437.33 640.9,437.38 641.4,437.42 641.9,437.46 642.4,437.51 642.9,437.55 643.4,437.6 643.9,437.64 644.4,437.68 644.9,437.73 645.4,437.77 645.9,437.81 646.4,437.86 646.9,437.9 647.4,437.94 647.9,437.99 648.4,438.03 648.9,438.08 649.4,438.12 649.9,438.16 650.4,438.21 650.9,438.25 651.4,438.29 651.9,438.34 652.4,438.38 652.9,438.42 653.4,438.47 653.9,438.51 654.4,438.55 654.9,438.59 655.4,438.63 655.9,438.67 656.4,438.7 656.9,438.74 657.4,438.78 657.9,438.82 658.4,438.86 658.9,438.9 659.4,438.94 659.9,438.98 660.4,439.02 660.9,439.05 661.4,439.09 661.9,439.13 662.4,439.17 662.9,439.21 663.4,439.25 663.9,439.29 664.4,439.33 664.9,439.37 665.4,439.41 665.9,439.44 666.4,439.48 666.9,439.52 667.4,439.56 667.9,439.6 668.4,439.64 668.9,439.68 669.4,439.72 669.9,439.76 670.4,439.8" fill="none" stroke="#e8262b" stroke-width="1.4" stroke-linejoin="round" mask="url(#redmask)"/>
<line x1="541.5" y1="337.2" x2="541.5" y2="447" stroke="#1a1a1a" stroke-width="1.1" stroke-dasharray="3.2 3"/>
<g font-family="Liberation Sans, sans-serif">
<text transform="translate(373.5,340.1) scale(1.1,1)" font-size="19.5" font-weight="bold" fill="#000">d</text>
<text x="411.2" y="375.7" font-size="9.2" fill="#4d4d4d" text-anchor="end">0.4%</text>
<text x="411.2" y="410.8" font-size="9.2" fill="#4d4d4d" text-anchor="end">0.2%</text>
<text x="411.2" y="445.9" font-size="9.2" fill="#4d4d4d" text-anchor="end">0.0%</text>
<text x="413.81" y="455.8" font-size="8.9" fill="#4d4d4d" text-anchor="middle">−300</text>
<text x="456.54" y="455.8" font-size="8.9" fill="#4d4d4d" text-anchor="middle">−200</text>
<text x="499.27" y="455.8" font-size="8.9" fill="#4d4d4d" text-anchor="middle">−100</text>
<text x="544.6" y="455.8" font-size="8.9" fill="#4d4d4d" text-anchor="middle">0</text>
<text x="584.73" y="455.8" font-size="8.9" fill="#4d4d4d" text-anchor="middle">100</text>
<text x="627.46" y="455.8" font-size="8.9" fill="#4d4d4d" text-anchor="middle">200</text>
<text x="670.19" y="455.8" font-size="8.9" fill="#4d4d4d" text-anchor="middle">300</text>
<text x="463.1" y="464.8" font-size="8.07" fill="#000" text-anchor="start">Distance to nearest nucleosome center [bp]</text>
<text transform="translate(386.8,391.8) rotate(-90)" font-size="8.1" text-anchor="middle" fill="#000">Fraction of reads</text>
</g>
</svg>
</body></html>
